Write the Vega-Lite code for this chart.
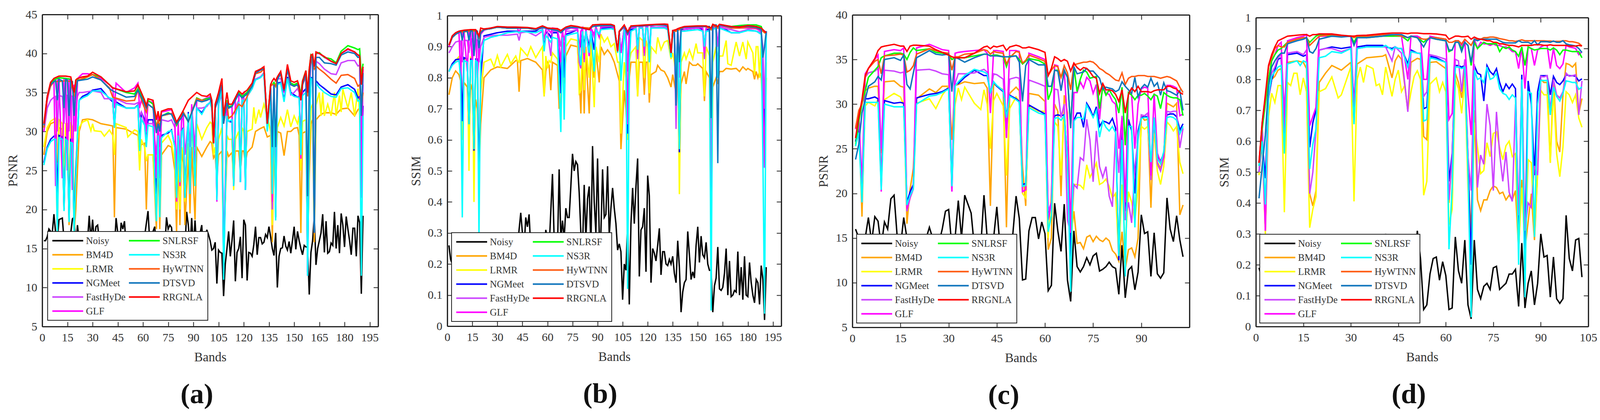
{"$schema":"https://vega.github.io/schema/vega-lite/v6.json","background":"white","padding":{"left":17,"top":22,"right":0,"bottom":0},"autosize":{"type":"pad"},"spacing":40,"resolve":{"legend":{"color":"independent"},"scale":{"color":"independent"}},
"config":{"view":{"stroke":null},"axis":{"labelFont":"Liberation Serif","labelFontSize":30,"titleFont":"Liberation Serif","titleFontSize":33,"titleFontWeight":"normal","labelColor":"#333","titleColor":"#333","grid":false,"domainColor":"#222","domainWidth":3.2,"tickColor":"#222","tickWidth":2,"tickSize":-12,"labelPadding":25,"labelFlush":false,"labelOverlap":false,"format":"d"},"legend":{"labelFont":"Liberation Serif","labelFontSize":25,"labelColor":"#333","symbolType":"stroke","symbolSize":6241,"symbolStrokeWidth":4,"columns":2,"rowPadding":9,"columnPadding":6,"fillColor":"white","strokeColor":"#222","strokeWidth":2,"padding":10,"title":null,"orient":"none","labelOffset":5,"clipHeight":27}},
"datasets":{
"A":[{"b":1,"Noisy":16,"BM4D":27,"LRMR":28,"NGMeet":26,"FastHyDe":30,"GLF":30,"SNLRSF":30.5,"NS3R":25.7,"HyWTNN":30.5,"DTSVD":30.8,"RRGNLA":31},
{"b":2,"Noisy":16},{"b":3,"Noisy":16.5},{"b":4,"Noisy":17.5},{"b":5,"Noisy":17.2},{"b":6,"Noisy":17},{"b":7,"Noisy":19.4},{"b":8,"Noisy":17},{"b":9,"Noisy":16},{"b":10,"Noisy":18.7},{"b":11,"Noisy":18.8},{"b":12,"Noisy":18.9},{"b":13,"Noisy":16},{"b":15,"Noisy":17},{"b":17,"Noisy":17},{"b":18,"Noisy":18.8},{"b":19,"Noisy":19},{"b":20,"Noisy":15},{"b":21,"Noisy":18},{"b":22,"Noisy":16},{"b":27,"Noisy":16},{"b":28,"Noisy":19.2},{"b":29,"Noisy":16},{"b":30,"Noisy":18.7},{"b":31,"Noisy":16},{"b":32,"Noisy":17.8},{"b":33,"Noisy":18},{"b":34,"Noisy":16},{"b":41,"Noisy":16},{"b":43,"Noisy":15},{"b":44,"Noisy":18.9},{"b":45,"Noisy":17},{"b":46,"Noisy":15},{"b":47,"Noisy":18.3},{"b":48,"Noisy":17.5},{"b":49,"Noisy":18.5},{"b":50,"Noisy":15},{"b":56,"Noisy":15},{"b":60,"Noisy":15},{"b":63,"Noisy":19.8},{"b":64,"Noisy":16},{"b":67,"Noisy":17.8},{"b":68,"Noisy":15},{"b":73,"Noisy":15},{"b":74,"Noisy":19},{"b":75,"Noisy":17.5},{"b":76,"Noisy":18},{"b":77,"Noisy":17.7},{"b":78,"Noisy":15},{"b":85,"Noisy":15},{"b":86,"Noisy":19.7},{"b":87,"Noisy":18},{"b":88,"Noisy":15},{"b":89,"Noisy":18.9},{"b":90,"Noisy":15},{"b":91,"Noisy":18.6},{"b":92,"Noisy":15},{"b":95,"Noisy":18},{"b":96,"Noisy":14},{"b":97,"Noisy":16},{"b":98,"Noisy":17.4},{"b":99,"Noisy":16.8},{"b":100,"Noisy":16},{"b":101,"Noisy":14.8},{"b":102,"Noisy":15},{"b":103,"Noisy":15.8},{"b":104,"Noisy":10.5},{"b":105,"Noisy":14.8},{"b":106,"Noisy":14.5},{"b":107,"Noisy":14.4},{"b":108,"Noisy":8.9},{"b":109,"Noisy":13},{"b":110,"Noisy":15},{"b":111,"Noisy":17.2},{"b":112,"Noisy":14},{"b":113,"Noisy":16},{"b":114,"Noisy":18.6},{"b":115,"Noisy":10.8},{"b":116,"Noisy":14.5},{"b":117,"Noisy":15},{"b":118,"Noisy":16.5},{"b":119,"Noisy":11.2},{"b":120,"Noisy":18.7},{"b":121,"Noisy":18},{"b":122,"Noisy":10.9},{"b":123,"Noisy":14.5},{"b":124,"Noisy":14.4},{"b":125,"Noisy":14},{"b":126,"Noisy":15.5},{"b":127,"Noisy":17.8},{"b":128,"Noisy":14.2},{"b":129,"Noisy":16.4},{"b":130,"Noisy":16.4},{"b":131,"Noisy":15.6},{"b":132,"Noisy":15.8},{"b":133,"Noisy":16.8},{"b":134,"Noisy":16.4},{"b":135,"Noisy":17.8},{"b":136,"Noisy":16.5},{"b":137,"Noisy":15},{"b":138,"Noisy":14.1},{"b":139,"Noisy":17},{"b":140,"Noisy":10},{"b":141,"Noisy":14},{"b":142,"Noisy":15},{"b":143,"Noisy":15.1},{"b":144,"Noisy":16.6},{"b":145,"Noisy":15.3},{"b":146,"Noisy":14.8},{"b":147,"Noisy":15.9},{"b":148,"Noisy":14.4},{"b":149,"Noisy":16},{"b":150,"Noisy":17.8},{"b":151,"Noisy":14.9},{"b":152,"Noisy":17.2},{"b":153,"Noisy":16},{"b":154,"Noisy":15},{"b":155,"Noisy":14.2},{"b":156,"Noisy":15.4},{"b":157,"Noisy":15.2},{"b":158,"Noisy":15.2},{"b":159,"Noisy":9.1},{"b":160,"Noisy":14.5},{"b":161,"Noisy":16},{"b":162,"Noisy":19.2},{"b":163,"Noisy":12.9},{"b":164,"Noisy":15},{"b":165,"Noisy":16},{"b":166,"Noisy":17},{"b":167,"Noisy":19.4},{"b":168,"Noisy":14.5},{"b":169,"Noisy":18.5},{"b":170,"Noisy":14.4},{"b":171,"Noisy":14.6},{"b":172,"Noisy":15.7},{"b":173,"Noisy":15.4},{"b":174,"Noisy":19.7},{"b":175,"Noisy":15},{"b":176,"Noisy":18},{"b":177,"Noisy":14.4},{"b":178,"Noisy":19.5},{"b":179,"Noisy":18},{"b":180,"Noisy":15.2},{"b":181,"Noisy":19.1},{"b":182,"Noisy":17.5},{"b":183,"Noisy":16},{"b":184,"Noisy":14.2},{"b":185,"Noisy":17.6},{"b":186,"Noisy":17.6},{"b":187,"Noisy":14},{"b":188,"Noisy":19.2},{"b":189,"Noisy":18.3},{"b":190,"Noisy":9.2},{"b":191,"Noisy":19.2},
{"b":3,"BM4D":30,"LRMR":30.5,"NGMeet":28,"FastHyDe":33,"GLF":34,"SNLRSF":34.5,"NS3R":27.8,"HyWTNN":34.3,"DTSVD":34.5,"RRGNLA":34.5},
{"b":5,"BM4D":31,"LRMR":31.3,"NGMeet":29,"FastHyDe":34,"GLF":36,"SNLRSF":36,"NS3R":28.7,"HyWTNN":35.8,"DTSVD":36,"RRGNLA":36.3},
{"b":7,"BM4D":31.2,"LRMR":31.6,"NGMeet":29.4,"FastHyDe":34.4,"GLF":36.6,"SNLRSF":36.6,"NS3R":29,"HyWTNN":36.4,"DTSVD":36.4,"RRGNLA":36.8},
{"b":8,"BM4D":31,"LRMR":31.7,"NGMeet":29.5,"FastHyDe":34.5,"GLF":23,"NS3R":29,"DTSVD":36.5},
{"b":9,"BM4D":17,"LRMR":26,"NGMeet":22,"FastHyDe":30,"GLF":36.5,"NS3R":17,"DTSVD":34},
{"b":10,"BM4D":30.5,"LRMR":31.5,"NGMeet":29.5,"FastHyDe":34.6,"GLF":36.8,"SNLRSF":36.9,"NS3R":29.2,"HyWTNN":36.4,"DTSVD":36.7,"RRGNLA":37.1},
{"b":12,"BM4D":30.3,"LRMR":31,"NGMeet":29.3,"FastHyDe":34.5,"GLF":24,"NS3R":29,"DTSVD":36.5},
{"b":13,"BM4D":20,"LRMR":24,"NGMeet":20,"FastHyDe":31,"GLF":36.8,"NS3R":19.8,"DTSVD":33},
{"b":14,"BM4D":30.3,"LRMR":31,"NGMeet":29.2,"FastHyDe":34.7,"GLF":36.8,"SNLRSF":36.8,"NS3R":29,"HyWTNN":36.5,"DTSVD":36.7,"RRGNLA":37.1},
{"b":15,"GLF":25,"BM4D":30.2,"LRMR":31,"NGMeet":29,"NS3R":28.8,"FastHyDe":34.6,"DTSVD":36.6},
{"b":16,"BM4D":18,"LRMR":22,"NGMeet":18.7,"FastHyDe":30,"GLF":36.6,"NS3R":18.4,"DTSVD":32},
{"b":17,"BM4D":30.2,"LRMR":31.2,"NGMeet":29,"FastHyDe":34.6,"GLF":36.5,"NS3R":28.6,"DTSVD":36.5,"HyWTNN":36.4,"SNLRSF":36.7,"RRGNLA":37},
{"b":18,"GLF":22.5,"BM4D":29,"LRMR":30.5,"NGMeet":29,"NS3R":28.5,"FastHyDe":34.5,"DTSVD":36.4},
{"b":19,"BM4D":17,"LRMR":20,"NGMeet":17.5,"FastHyDe":30,"GLF":36,"SNLRSF":34.5,"NS3R":17,"HyWTNN":34.5,"DTSVD":32,"RRGNLA":35},
{"b":20,"BM4D":20,"LRMR":25,"NGMeet":25,"FastHyDe":33,"GLF":30,"SNLRSF":36,"NS3R":24,"HyWTNN":36,"DTSVD":35,"RRGNLA":36.6},
{"b":21,"BM4D":25,"LRMR":29,"NGMeet":29.5,"FastHyDe":34.5,"GLF":36.5,"SNLRSF":36.6,"NS3R":29.4,"HyWTNN":36.5,"DTSVD":36.5,"RRGNLA":36.8},
{"b":22,"BM4D":30,"LRMR":30.5,"NGMeet":34,"FastHyDe":35,"GLF":37,"NS3R":34},
{"b":24,"BM4D":31.5,"LRMR":31.2,"NGMeet":34.5,"FastHyDe":35,"GLF":37.4,"SNLRSF":36.7,"NS3R":34.3,"HyWTNN":36.8,"DTSVD":36.6,"RRGNLA":37},
{"b":27,"BM4D":31.6,"LRMR":31.5,"NGMeet":34.8,"FastHyDe":35.1,"GLF":37.4,"SNLRSF":37,"NS3R":34.6,"HyWTNN":37,"DTSVD":36.7,"RRGNLA":37.1},
{"b":29,"LRMR":30.1},{"b":30,"BM4D":31.5,"LRMR":31,"NGMeet":35.3,"FastHyDe":35.2,"GLF":37.3,"SNLRSF":37.3,"NS3R":35.2,"HyWTNN":37.3,"DTSVD":37,"RRGNLA":37.6},{"b":31,"LRMR":30.1},
{"b":35,"BM4D":31,"LRMR":30,"NGMeet":35.5,"FastHyDe":35,"GLF":36.8,"SNLRSF":37,"NS3R":35.2,"HyWTNN":36.6,"DTSVD":36.6,"RRGNLA":37},{"b":37,"LRMR":29.4,"FastHyDe":34.2},
{"b":40,"BM4D":30.8,"LRMR":30.2,"NGMeet":34.2,"FastHyDe":34.2,"GLF":36,"SNLRSF":36,"NS3R":34.3,"HyWTNN":35.6,"DTSVD":35.5,"RRGNLA":36},
{"b":42,"BM4D":30.7,"LRMR":29.5,"NGMeet":33.8,"FastHyDe":34,"GLF":35.5,"SNLRSF":35.6,"NS3R":34.2,"HyWTNN":34.4,"DTSVD":35.2,"RRGNLA":35.6},
{"b":43,"BM4D":19,"LRMR":27,"NGMeet":30.5,"FastHyDe":30.5,"GLF":33,"NS3R":30.5},
{"b":44,"BM4D":30.5,"LRMR":31,"NGMeet":33.8,"FastHyDe":34.2,"GLF":36.2,"NS3R":33.5},
{"b":50,"BM4D":30.3,"LRMR":30.5,"NGMeet":33,"FastHyDe":33.6,"GLF":35,"SNLRSF":35,"NS3R":33,"HyWTNN":33.9,"DTSVD":34.4,"RRGNLA":35.1},{"b":51,"LRMR":29.3},
{"b":55,"BM4D":29.7,"LRMR":30.2,"NGMeet":33,"FastHyDe":33.5,"GLF":35.6,"SNLRSF":34.8,"NS3R":33,"HyWTNN":34,"DTSVD":34.5,"RRGNLA":35.2},
{"b":57,"BM4D":29.5,"LRMR":30,"NGMeet":33.4,"FastHyDe":33.7,"GLF":36.2,"SNLRSF":35.5,"NS3R":33.3,"HyWTNN":35.3,"DTSVD":35.3,"RRGNLA":36},
{"b":58,"BM4D":28,"LRMR":25,"NGMeet":28,"FastHyDe":32,"GLF":33,"NS3R":27.5},
{"b":59,"BM4D":28.3,"LRMR":29,"NGMeet":32.5,"FastHyDe":32.5,"GLF":34,"NS3R":31.6},
{"b":61,"BM4D":28.5,"LRMR":28,"NGMeet":31.5,"FastHyDe":31,"GLF":33,"SNLRSF":33.8,"NS3R":30.8,"HyWTNN":33,"DTSVD":33.5,"RRGNLA":34},
{"b":62,"BM4D":20,"LRMR":26.2,"NGMeet":28.5,"FastHyDe":28.5,"GLF":30,"SNLRSF":33,"NS3R":28,"HyWTNN":32.5,"DTSVD":33,"RRGNLA":33.3},
{"b":63,"BM4D":27,"LRMR":27,"NGMeet":31.5,"FastHyDe":31,"GLF":33.8,"SNLRSF":34,"NS3R":30.8,"HyWTNN":33.5,"DTSVD":33.5,"RRGNLA":34.2},
{"b":66,"BM4D":27,"LRMR":27,"NGMeet":31.5,"FastHyDe":31,"GLF":33.8,"SNLRSF":33.5,"NS3R":30.6,"HyWTNN":33,"DTSVD":33,"RRGNLA":34},
{"b":68,"BM4D":17.5,"LRMR":19,"NGMeet":22,"FastHyDe":27,"GLF":24,"SNLRSF":30.5,"NS3R":18.5,"HyWTNN":30.5,"DTSVD":29.8,"RRGNLA":31.5},
{"b":69,"BM4D":27,"LRMR":29,"NGMeet":30,"FastHyDe":31,"GLF":32,"SNLRSF":31.5,"NS3R":29.5,"HyWTNN":31.5,"DTSVD":31,"RRGNLA":32.6},
{"b":70,"BM4D":17.5,"LRMR":20,"NGMeet":24,"FastHyDe":28,"GLF":24,"SNLRSF":30.5,"NS3R":19,"HyWTNN":30.5,"DTSVD":30,"RRGNLA":31.3},
{"b":71,"BM4D":27,"LRMR":28.5,"NGMeet":29.5,"FastHyDe":31.5,"GLF":32.5,"SNLRSF":32,"NS3R":29.2,"HyWTNN":32,"DTSVD":32,"RRGNLA":32.6},
{"b":75,"BM4D":28.2,"LRMR":29.5,"NGMeet":29.8,"FastHyDe":31.3,"GLF":32.7,"SNLRSF":32.4,"NS3R":30,"HyWTNN":32.2,"DTSVD":32.3,"RRGNLA":32.9},
{"b":77,"BM4D":28,"LRMR":28.5,"NGMeet":30.2,"FastHyDe":31.5,"GLF":32.8,"SNLRSF":32.2,"NS3R":30.1,"HyWTNN":32.3,"DTSVD":32.2,"RRGNLA":32.9},
{"b":79,"BM4D":25,"LRMR":26,"NGMeet":28,"FastHyDe":30.5,"GLF":31.5,"SNLRSF":31.5,"NS3R":28,"HyWTNN":31.6,"DTSVD":31.2,"RRGNLA":31.8},
{"b":80,"BM4D":17,"LRMR":20,"NGMeet":22,"FastHyDe":25,"GLF":21,"SNLRSF":30.8,"NS3R":21.5,"HyWTNN":31,"DTSVD":31,"RRGNLA":31.2},
{"b":81,"BM4D":27,"LRMR":28,"NGMeet":29.5,"FastHyDe":31,"GLF":31.6,"NS3R":29.5},
{"b":82,"BM4D":18,"LRMR":20,"NGMeet":24,"FastHyDe":27,"GLF":23,"NS3R":23.5},
{"b":83,"BM4D":27.5,"LRMR":28,"NGMeet":30,"FastHyDe":31.5,"GLF":32,"SNLRSF":32,"NS3R":30,"HyWTNN":32,"DTSVD":31.8,"RRGNLA":32.3},
{"b":84,"BM4D":26,"LRMR":27,"NGMeet":30.5,"FastHyDe":31.7,"GLF":32.2,"NS3R":30.3,"SNLRSF":32.5,"HyWTNN":32.5,"DTSVD":32.3,"RRGNLA":32.7},
{"b":85,"BM4D":18,"LRMR":21,"NGMeet":21.5,"FastHyDe":27,"GLF":22,"NS3R":21.5},
{"b":87,"BM4D":27,"LRMR":28.5,"NGMeet":32.5,"FastHyDe":31.5,"GLF":32,"SNLRSF":31.2,"NS3R":32.3,"HyWTNN":31.3,"DTSVD":31.3,"RRGNLA":34},
{"b":88,"BM4D":19.5,"LRMR":24,"NGMeet":22,"FastHyDe":28,"GLF":22,"NS3R":22},
{"b":89,"BM4D":28,"LRMR":31,"NGMeet":32.7,"FastHyDe":33,"GLF":33.5,"NS3R":32.5},
{"b":91,"BM4D":18.7,"LRMR":23,"NGMeet":24,"FastHyDe":28,"GLF":25,"NS3R":23},
{"b":92,"BM4D":28,"LRMR":31,"NGMeet":33,"FastHyDe":33,"GLF":34,"SNLRSF":34.3,"NS3R":33,"HyWTNN":34.2,"DTSVD":34,"RRGNLA":35},
{"b":95,"BM4D":26.8,"LRMR":29,"NGMeet":32.4,"FastHyDe":33,"GLF":34,"SNLRSF":34,"NS3R":32.2,"HyWTNN":34,"DTSVD":33.8,"RRGNLA":34.6},
{"b":98,"BM4D":28,"LRMR":30.5,"NGMeet":33.4,"FastHyDe":33.2,"GLF":34.3,"SNLRSF":34.2,"NS3R":33.4,"HyWTNN":34,"DTSVD":34,"RRGNLA":34.5},
{"b":100,"BM4D":28.7,"LRMR":31.2,"NGMeet":33.7,"FastHyDe":33.8,"GLF":34.5,"SNLRSF":34.3,"NS3R":33.7,"HyWTNN":34.2,"DTSVD":34.2,"RRGNLA":34.8},
{"b":101,"BM4D":28.5,"LRMR":31,"NGMeet":33,"FastHyDe":33.5,"GLF":33.5,"SNLRSF":33.5,"NS3R":33,"HyWTNN":33.5,"DTSVD":33.5,"RRGNLA":34},
{"b":102,"BM4D":26.6,"LRMR":27,"NGMeet":28.5,"FastHyDe":28.7,"GLF":28.5,"SNLRSF":28.5,"NS3R":28.4,"HyWTNN":28.5,"DTSVD":28.6,"RRGNLA":28.5},
{"b":103,"BM4D":27,"LRMR":28,"NGMeet":33,"FastHyDe":33,"GLF":33,"SNLRSF":33,"NS3R":33,"HyWTNN":33,"DTSVD":33,"RRGNLA":33.5},
{"b":104,"BM4D":24,"LRMR":24,"NGMeet":21.5,"FastHyDe":24,"GLF":21,"NS3R":21.2},
{"b":105,"BM4D":27,"LRMR":29,"NGMeet":33.5,"FastHyDe":33.5,"GLF":34,"SNLRSF":34.5,"NS3R":33.5,"HyWTNN":34.5,"DTSVD":34.2,"RRGNLA":35},
{"b":107,"BM4D":27.5,"LRMR":30.5,"NGMeet":35,"FastHyDe":35,"GLF":36,"SNLRSF":36,"NS3R":35.5,"HyWTNN":36,"DTSVD":36,"RRGNLA":36.8},
{"b":108,"BM4D":15,"LRMR":14,"NGMeet":12,"FastHyDe":14,"GLF":12,"SNLRSF":32,"NS3R":11,"HyWTNN":31,"DTSVD":31,"RRGNLA":32},
{"b":110,"BM4D":27.5,"LRMR":29.5,"NGMeet":32,"FastHyDe":32.5,"GLF":33.5,"SNLRSF":34,"NS3R":32,"HyWTNN":33.8,"DTSVD":33.7,"RRGNLA":35},
{"b":111,"BM4D":26.8,"LRMR":29,"NGMeet":31.3,"FastHyDe":31.7,"GLF":33,"SNLRSF":33.2,"NS3R":31.3,"HyWTNN":31.7,"DTSVD":33,"RRGNLA":33.5},
{"b":113,"BM4D":27.3,"LRMR":29,"NGMeet":31.2,"FastHyDe":32,"GLF":33.2,"SNLRSF":33.3,"NS3R":31.5,"HyWTNN":32,"DTSVD":33.2,"RRGNLA":33.5},
{"b":114,"BM4D":24,"LRMR":22.5,"NGMeet":23,"FastHyDe":24,"GLF":23,"NS3R":23},
{"b":115,"BM4D":27.5,"LRMR":29,"NGMeet":32,"FastHyDe":33,"GLF":34,"NS3R":32},
{"b":117,"BM4D":27.5,"LRMR":30,"NGMeet":34,"FastHyDe":34,"GLF":35,"SNLRSF":35,"NS3R":33.8,"HyWTNN":33.5,"DTSVD":34.8,"RRGNLA":35.2},
{"b":118,"BM4D":25,"LRMR":26,"NGMeet":23.5,"FastHyDe":25,"GLF":23.5,"NS3R":23.5},
{"b":119,"BM4D":27.5,"LRMR":30.5,"NGMeet":34,"FastHyDe":34,"GLF":34.7,"SNLRSF":34.5,"NS3R":34,"HyWTNN":33.2,"DTSVD":34.3,"RRGNLA":34.8},
{"b":120,"BM4D":27.5,"LRMR":30,"NGMeet":34,"FastHyDe":34,"GLF":35,"NS3R":34},
{"b":121,"BM4D":26,"LRMR":26,"NGMeet":22.5,"FastHyDe":25,"GLF":22.5,"NS3R":22.5},
{"b":122,"BM4D":27.3,"LRMR":30,"NGMeet":34.5,"FastHyDe":34.5,"GLF":35,"SNLRSF":35,"NS3R":34.5,"HyWTNN":34.5,"DTSVD":34.8,"RRGNLA":35.3},
{"b":125,"BM4D":28,"LRMR":30.3,"NGMeet":35.5,"FastHyDe":35.5,"GLF":36,"SNLRSF":36,"NS3R":35.5,"HyWTNN":36,"DTSVD":35.8,"RRGNLA":36.2},
{"b":126,"LRMR":33.1},{"b":127,"BM4D":30,"LRMR":31,"NGMeet":36.7,"FastHyDe":36.7,"GLF":37.4,"SNLRSF":37.6,"NS3R":36.6,"HyWTNN":37.4,"DTSVD":37.5,"RRGNLA":37.7},
{"b":129,"LRMR":32.8},{"b":130,"BM4D":30.4,"LRMR":31.8,"NGMeet":37,"FastHyDe":37,"GLF":37.9,"SNLRSF":38,"NS3R":36.9,"HyWTNN":37.6,"DTSVD":37.9,"RRGNLA":38},
{"b":132,"BM4D":30.6,"LRMR":33.5,"NGMeet":37.5,"FastHyDe":37.5,"GLF":38.1,"SNLRSF":38,"NS3R":37.4,"HyWTNN":38,"DTSVD":38,"RRGNLA":38.3},
{"b":134,"BM4D":29.3,"LRMR":32,"NGMeet":31,"FastHyDe":31,"GLF":31,"SNLRSF":31,"NS3R":30,"HyWTNN":31,"DTSVD":31,"RRGNLA":31},
{"b":136,"BM4D":29.5,"LRMR":30,"NGMeet":35,"FastHyDe":35.5,"GLF":35.5,"SNLRSF":36,"NS3R":34.5,"HyWTNN":35.8,"DTSVD":35.7,"RRGNLA":36},
{"b":137,"BM4D":15.8,"LRMR":18,"NGMeet":22.5,"FastHyDe":20,"GLF":21,"SNLRSF":36,"NS3R":22,"HyWTNN":36,"DTSVD":28,"RRGNLA":36.5},
{"b":138,"BM4D":29,"LRMR":30,"NGMeet":36,"FastHyDe":36,"GLF":36,"SNLRSF":36.3,"NS3R":35.5,"HyWTNN":36,"DTSVD":36,"RRGNLA":36.8},
{"b":139,"BM4D":25,"LRMR":25,"NGMeet":19,"FastHyDe":25,"GLF":24,"SNLRSF":35.8,"NS3R":18.6,"HyWTNN":35.8,"DTSVD":28,"RRGNLA":36.5},
{"b":140,"BM4D":30,"LRMR":30.5,"NGMeet":36.2,"FastHyDe":36.7,"GLF":36.7,"SNLRSF":36.8,"NS3R":36,"HyWTNN":36.8,"DTSVD":36.6,"RRGNLA":37},
{"b":142,"BM4D":29.8,"LRMR":31.8,"NGMeet":36.3,"FastHyDe":36.8,"GLF":37.5,"SNLRSF":37.6,"NS3R":36.2,"HyWTNN":37.3,"DTSVD":37.5,"RRGNLA":37.7},
{"b":144,"BM4D":26.9,"LRMR":30.7,"NGMeet":34,"FastHyDe":35,"GLF":35,"SNLRSF":35.4,"NS3R":33.8,"HyWTNN":35.2,"DTSVD":35.2,"RRGNLA":35.4},
{"b":146,"BM4D":30,"LRMR":32.8,"NGMeet":37,"FastHyDe":36.8,"GLF":38,"SNLRSF":38.2,"NS3R":36.8,"HyWTNN":38,"DTSVD":38,"RRGNLA":38.6},
{"b":148,"BM4D":30,"LRMR":30.6,"NGMeet":35,"FastHyDe":34.7,"GLF":36,"SNLRSF":36.2,"NS3R":34.8,"HyWTNN":36,"DTSVD":36,"RRGNLA":36.5},
{"b":150,"BM4D":30.4,"LRMR":32,"NGMeet":34.7,"FastHyDe":35,"GLF":36,"SNLRSF":36,"NS3R":34.5,"HyWTNN":35.8,"DTSVD":35.8,"RRGNLA":36.3},
{"b":152,"BM4D":30.5,"LRMR":31,"NGMeet":34.4,"FastHyDe":35.5,"GLF":36.2,"SNLRSF":36.2,"NS3R":34.4,"HyWTNN":36,"DTSVD":36,"RRGNLA":36.5},
{"b":153,"BM4D":29.5,"LRMR":32,"NGMeet":34.5,"FastHyDe":35,"GLF":35.5,"SNLRSF":35.5,"NS3R":34.3,"HyWTNN":35.2,"DTSVD":35.5,"RRGNLA":35.8},
{"b":154,"BM4D":17,"LRMR":25,"NGMeet":28,"FastHyDe":27,"GLF":26.5,"SNLRSF":35,"NS3R":27,"HyWTNN":34,"DTSVD":34,"RRGNLA":34},
{"b":155,"BM4D":29.8,"LRMR":31.3,"NGMeet":35,"FastHyDe":36,"GLF":36.5,"SNLRSF":36.5,"NS3R":34.6,"HyWTNN":36,"DTSVD":36,"RRGNLA":36.4},
{"b":157,"BM4D":30,"LRMR":31.5,"NGMeet":35.5,"FastHyDe":37,"GLF":37.5,"SNLRSF":37.8,"NS3R":35,"HyWTNN":37.2,"DTSVD":37.5,"RRGNLA":37.8},
{"b":158,"BM4D":15,"LRMR":14,"NGMeet":12,"FastHyDe":14,"GLF":11.5,"SNLRSF":35,"NS3R":11.5,"HyWTNN":34.5,"DTSVD":21.7,"RRGNLA":35},
{"b":159,"BM4D":24.5,"LRMR":27,"NGMeet":30,"FastHyDe":35,"GLF":35,"SNLRSF":38,"NS3R":30,"HyWTNN":37,"DTSVD":36,"RRGNLA":38},
{"b":160,"BM4D":31,"LRMR":33,"NGMeet":36.9,"FastHyDe":39,"GLF":39.8,"SNLRSF":39.8,"NS3R":36.8,"HyWTNN":39.5,"DTSVD":39.5,"RRGNLA":39.8},
{"b":161,"BM4D":31.5,"LRMR":33.5,"NGMeet":36.9,"FastHyDe":39,"GLF":39.8,"SNLRSF":39.5,"NS3R":36.5,"HyWTNN":38.5,"DTSVD":39.5,"RRGNLA":39.9},
{"b":162,"BM4D":15.8,"LRMR":17,"NGMeet":17.2,"FastHyDe":17.5,"GLF":17,"SNLRSF":38.5,"NS3R":17.2,"HyWTNN":38,"DTSVD":17,"RRGNLA":38.3},
{"b":163,"BM4D":31.5,"LRMR":33.4,"NGMeet":36.5,"FastHyDe":39,"GLF":40,"SNLRSF":40,"NS3R":36.2,"HyWTNN":38.4,"DTSVD":39.5,"RRGNLA":40.2},
{"b":165,"LRMR":35,"BM4D":32,"NGMeet":36,"NS3R":35.6,"FastHyDe":38.7,"GLF":40,"SNLRSF":40.1,"HyWTNN":38,"DTSVD":39.5,"RRGNLA":40},
{"b":166,"LRMR":32},{"b":167,"LRMR":35,"BM4D":32.3},
{"b":168,"BM4D":32.4,"LRMR":32,"NGMeet":35.5,"FastHyDe":38,"GLF":39.5,"SNLRSF":39.5,"NS3R":35,"HyWTNN":37.5,"DTSVD":38.8,"RRGNLA":39.6},
{"b":170,"LRMR":33.5},
{"b":172,"BM4D":32.4,"LRMR":32,"NGMeet":34.8,"FastHyDe":37.4,"GLF":39,"SNLRSF":39.3,"NS3R":34.5,"HyWTNN":36.7,"DTSVD":38.7,"RRGNLA":39},
{"b":174,"LRMR":35},
{"b":175,"BM4D":32.2,"LRMR":32,"NGMeet":34.7,"FastHyDe":37.3,"GLF":38.7,"SNLRSF":38.8,"NS3R":34.4,"HyWTNN":36.2,"DTSVD":38.5,"RRGNLA":38.7},
{"b":177,"LRMR":34.6},
{"b":178,"BM4D":32.9,"LRMR":32.5,"NGMeet":35.7,"FastHyDe":38.8,"GLF":40,"SNLRSF":40.3,"NS3R":35.5,"HyWTNN":37.2,"DTSVD":39.8,"RRGNLA":40},
{"b":179,"LRMR":35.4},
{"b":182,"BM4D":33,"LRMR":33,"NGMeet":36,"FastHyDe":39.1,"GLF":40.5,"SNLRSF":41,"NS3R":35.6,"HyWTNN":37.3,"DTSVD":40.2,"RRGNLA":40.6},
{"b":184,"LRMR":35},
{"b":186,"BM4D":32,"LRMR":32,"NGMeet":35.4,"FastHyDe":39.1,"GLF":40.2,"SNLRSF":40.7,"NS3R":35,"HyWTNN":36.8,"DTSVD":40,"RRGNLA":40.2},
{"b":188,"BM4D":32.8,"LRMR":35.5,"NGMeet":34.3,"FastHyDe":38.4,"GLF":39.8,"SNLRSF":40.5,"NS3R":33.9,"HyWTNN":35.8,"DTSVD":39.5,"RRGNLA":39.8},
{"b":189,"BM4D":33,"LRMR":32,"NGMeet":34.5,"FastHyDe":38.5,"GLF":39.8,"SNLRSF":40.6,"NS3R":34,"HyWTNN":36,"DTSVD":39.6,"RRGNLA":39.7},
{"b":190,"BM4D":27,"LRMR":27,"NGMeet":26,"FastHyDe":30,"GLF":21.5,"SNLRSF":37,"NS3R":11.5,"HyWTNN":33,"DTSVD":32,"RRGNLA":36},
{"b":191,"BM4D":31,"LRMR":31,"NGMeet":33.3,"FastHyDe":36,"GLF":38,"SNLRSF":38.7,"NS3R":32,"HyWTNN":35,"DTSVD":37.5,"RRGNLA":38.3}],
"B":[{"b":1,"Noisy":0.26,"BM4D":0.745,"LRMR":0.82,"NGMeet":0.82,"FastHyDe":0.88,"GLF":0.9,"SNLRSF":0.905,"NS3R":0.82,"HyWTNN":0.905,"DTSVD":0.905,"RRGNLA":0.905},
{"b":2,"Noisy":0.215},{"b":3,"Noisy":0.2},{"b":15,"Noisy":0.2},{"b":30,"Noisy":0.22},{"b":42,"Noisy":0.25},{"b":43,"Noisy":0.31},{"b":44,"Noisy":0.365},{"b":45,"Noisy":0.3},{"b":46,"Noisy":0.25},{"b":47,"Noisy":0.35},{"b":48,"Noisy":0.32},{"b":49,"Noisy":0.36},{"b":50,"Noisy":0.25},{"b":58,"Noisy":0.25},{"b":59,"Noisy":0.31},{"b":60,"Noisy":0.28},{"b":61,"Noisy":0.25},{"b":63,"Noisy":0.49},{"b":64,"Noisy":0.28},{"b":66,"Noisy":0.25},{"b":67,"Noisy":0.505},{"b":68,"Noisy":0.28},{"b":69,"Noisy":0.34},{"b":70,"Noisy":0.28},{"b":71,"Noisy":0.38},{"b":72,"Noisy":0.35},{"b":73,"Noisy":0.35},{"b":74,"Noisy":0.45},{"b":75,"Noisy":0.555},{"b":76,"Noisy":0.5},{"b":77,"Noisy":0.53},{"b":78,"Noisy":0.52},{"b":79,"Noisy":0.43},{"b":80,"Noisy":0.3},{"b":81,"Noisy":0.25},{"b":82,"Noisy":0.455},{"b":83,"Noisy":0.28},{"b":84,"Noisy":0.41},{"b":85,"Noisy":0.45},{"b":86,"Noisy":0.25},{"b":87,"Noisy":0.58},{"b":88,"Noisy":0.4},{"b":89,"Noisy":0.3},{"b":90,"Noisy":0.54},{"b":91,"Noisy":0.3},{"b":92,"Noisy":0.3},{"b":93,"Noisy":0.505},{"b":94,"Noisy":0.35},{"b":95,"Noisy":0.36},{"b":96,"Noisy":0.515},{"b":97,"Noisy":0.29},{"b":98,"Noisy":0.38},{"b":99,"Noisy":0.445},{"b":100,"Noisy":0.38},{"b":101,"Noisy":0.33},{"b":102,"Noisy":0.245},{"b":103,"Noisy":0.265},{"b":104,"Noisy":0.24},{"b":105,"Noisy":0.085},{"b":106,"Noisy":0.2},{"b":107,"Noisy":0.18},{"b":108,"Noisy":0.33},{"b":109,"Noisy":0.07},{"b":110,"Noisy":0.33},{"b":111,"Noisy":0.445},{"b":112,"Noisy":0.33},{"b":113,"Noisy":0.45},{"b":114,"Noisy":0.54},{"b":115,"Noisy":0.16},{"b":116,"Noisy":0.31},{"b":117,"Noisy":0.32},{"b":118,"Noisy":0.38},{"b":119,"Noisy":0.175},{"b":120,"Noisy":0.485},{"b":121,"Noisy":0.42},{"b":122,"Noisy":0.14},{"b":123,"Noisy":0.25},{"b":124,"Noisy":0.235},{"b":125,"Noisy":0.21},{"b":126,"Noisy":0.26},{"b":127,"Noisy":0.315},{"b":128,"Noisy":0.165},{"b":129,"Noisy":0.24},{"b":130,"Noisy":0.24},{"b":131,"Noisy":0.2},{"b":132,"Noisy":0.195},{"b":133,"Noisy":0.215},{"b":134,"Noisy":0.2},{"b":135,"Noisy":0.225},{"b":136,"Noisy":0.17},{"b":137,"Noisy":0.14},{"b":138,"Noisy":0.275},{"b":139,"Noisy":0.19},{"b":140,"Noisy":0.045},{"b":141,"Noisy":0.11},{"b":142,"Noisy":0.14},{"b":143,"Noisy":0.15},{"b":144,"Noisy":0.305},{"b":145,"Noisy":0.23},{"b":146,"Noisy":0.15},{"b":147,"Noisy":0.175},{"b":148,"Noisy":0.155},{"b":149,"Noisy":0.26},{"b":150,"Noisy":0.32},{"b":151,"Noisy":0.205},{"b":152,"Noisy":0.29},{"b":153,"Noisy":0.23},{"b":154,"Noisy":0.22},{"b":155,"Noisy":0.27},{"b":156,"Noisy":0.2},{"b":157,"Noisy":0.18},{"b":158,"Noisy":0.18},{"b":159,"Noisy":0.045},{"b":160,"Noisy":0.13},{"b":161,"Noisy":0.155},{"b":162,"Noisy":0.255},{"b":163,"Noisy":0.12},{"b":164,"Noisy":0.115},{"b":165,"Noisy":0.125},{"b":166,"Noisy":0.17},{"b":167,"Noisy":0.25},{"b":168,"Noisy":0.1},{"b":169,"Noisy":0.21},{"b":170,"Noisy":0.095},{"b":171,"Noisy":0.1},{"b":172,"Noisy":0.115},{"b":173,"Noisy":0.11},{"b":174,"Noisy":0.24},{"b":175,"Noisy":0.1},{"b":176,"Noisy":0.19},{"b":177,"Noisy":0.085},{"b":178,"Noisy":0.225},{"b":179,"Noisy":0.1},{"b":180,"Noisy":0.095},{"b":181,"Noisy":0.205},{"b":182,"Noisy":0.14},{"b":183,"Noisy":0.1},{"b":184,"Noisy":0.075},{"b":185,"Noisy":0.15},{"b":186,"Noisy":0.14},{"b":187,"Noisy":0.07},{"b":188,"Noisy":0.195},{"b":189,"Noisy":0.15},{"b":190,"Noisy":0.02},{"b":191,"Noisy":0.19},
{"b":3,"BM4D":0.8,"LRMR":0.845,"NGMeet":0.845,"FastHyDe":0.9,"GLF":0.93,"SNLRSF":0.93,"NS3R":0.84,"HyWTNN":0.93,"DTSVD":0.93,"RRGNLA":0.935},
{"b":5,"BM4D":0.822,"LRMR":0.855,"NGMeet":0.858,"FastHyDe":0.915,"GLF":0.94,"SNLRSF":0.94,"NS3R":0.85,"HyWTNN":0.94,"DTSVD":0.94,"RRGNLA":0.945},
{"b":7,"BM4D":0.81,"LRMR":0.868,"NGMeet":0.86,"FastHyDe":0.918,"GLF":0.948,"SNLRSF":0.948,"NS3R":0.855,"HyWTNN":0.946,"DTSVD":0.946,"RRGNLA":0.95},
{"b":8,"BM4D":0.79,"LRMR":0.86,"NGMeet":0.86,"FastHyDe":0.918,"GLF":0.8,"NS3R":0.8,"DTSVD":0.95},
{"b":9,"BM4D":0.6,"LRMR":0.6,"NGMeet":0.66,"FastHyDe":0.85,"GLF":0.95,"NS3R":0.35,"DTSVD":0.92},
{"b":10,"BM4D":0.785,"LRMR":0.86,"NGMeet":0.865,"FastHyDe":0.92,"GLF":0.95,"SNLRSF":0.95,"NS3R":0.855,"HyWTNN":0.948,"DTSVD":0.95,"RRGNLA":0.953},
{"b":12,"BM4D":0.77,"LRMR":0.86,"NGMeet":0.86,"FastHyDe":0.92,"GLF":0.82,"NS3R":0.85,"DTSVD":0.95},
{"b":13,"BM4D":0.62,"LRMR":0.5,"NGMeet":0.65,"FastHyDe":0.88,"GLF":0.95,"NS3R":0.65,"DTSVD":0.92},
{"b":14,"BM4D":0.78,"LRMR":0.865,"NGMeet":0.86,"FastHyDe":0.925,"GLF":0.953,"SNLRSF":0.952,"NS3R":0.855,"HyWTNN":0.95,"DTSVD":0.952,"RRGNLA":0.955},
{"b":15,"BM4D":0.76,"LRMR":0.86,"NGMeet":0.86,"FastHyDe":0.925,"GLF":0.84,"NS3R":0.855,"DTSVD":0.95},
{"b":16,"BM4D":0.6,"LRMR":0.4,"NGMeet":0.565,"FastHyDe":0.87,"GLF":0.95,"NS3R":0.57,"DTSVD":0.87},
{"b":17,"BM4D":0.73,"LRMR":0.85,"NGMeet":0.86,"FastHyDe":0.925,"GLF":0.953,"SNLRSF":0.953,"NS3R":0.855,"HyWTNN":0.95,"DTSVD":0.953,"RRGNLA":0.955},
{"b":18,"BM4D":0.7,"LRMR":0.85,"NGMeet":0.86,"FastHyDe":0.92,"GLF":0.8,"NS3R":0.85,"DTSVD":0.95},
{"b":19,"BM4D":0.49,"LRMR":0.5,"NGMeet":0.45,"FastHyDe":0.85,"GLF":0.88,"SNLRSF":0.93,"NS3R":0.29,"HyWTNN":0.93,"DTSVD":0.895,"RRGNLA":0.935},
{"b":20,"BM4D":0.65,"LRMR":0.75,"NGMeet":0.8,"FastHyDe":0.9,"GLF":0.94,"SNLRSF":0.95,"NS3R":0.85,"HyWTNN":0.95,"DTSVD":0.945,"RRGNLA":0.96},
{"b":22,"BM4D":0.8,"LRMR":0.85,"NGMeet":0.935,"FastHyDe":0.93,"GLF":0.953,"SNLRSF":0.955,"NS3R":0.92,"HyWTNN":0.955,"DTSVD":0.955,"RRGNLA":0.957},
{"b":26,"BM4D":0.825,"LRMR":0.86,"NGMeet":0.94,"FastHyDe":0.935,"GLF":0.96,"SNLRSF":0.958,"NS3R":0.93,"HyWTNN":0.958,"DTSVD":0.958,"RRGNLA":0.96},
{"b":28,"LRMR":0.835},{"b":30,"BM4D":0.835,"LRMR":0.872,"NGMeet":0.945,"FastHyDe":0.937,"GLF":0.963,"SNLRSF":0.963,"NS3R":0.935,"HyWTNN":0.963,"DTSVD":0.963,"RRGNLA":0.965},{"b":32,"LRMR":0.835},
{"b":36,"BM4D":0.83,"LRMR":0.875,"NGMeet":0.95,"FastHyDe":0.937,"GLF":0.96,"SNLRSF":0.96,"NS3R":0.945,"HyWTNN":0.96,"DTSVD":0.96,"RRGNLA":0.963},{"b":38,"LRMR":0.845},
{"b":41,"BM4D":0.855,"LRMR":0.87,"NGMeet":0.95,"FastHyDe":0.94,"GLF":0.96,"SNLRSF":0.96,"NS3R":0.948,"HyWTNN":0.96,"DTSVD":0.96,"RRGNLA":0.963},
{"b":42,"BM4D":0.855,"LRMR":0.855,"NGMeet":0.95,"FastHyDe":0.94,"GLF":0.96,"NS3R":0.948},
{"b":43,"BM4D":0.755,"LRMR":0.85,"NGMeet":0.945,"FastHyDe":0.92,"GLF":0.945,"NS3R":0.945},
{"b":44,"BM4D":0.855,"LRMR":0.895,"NGMeet":0.95,"FastHyDe":0.945,"GLF":0.96,"NS3R":0.95},
{"b":48,"BM4D":0.862,"LRMR":0.87,"NGMeet":0.95,"FastHyDe":0.948,"GLF":0.96,"SNLRSF":0.96,"NS3R":0.947,"HyWTNN":0.96,"DTSVD":0.96,"RRGNLA":0.962},
{"b":50,"LRMR":0.9},{"b":53,"BM4D":0.85,"LRMR":0.865,"NGMeet":0.95,"FastHyDe":0.935,"GLF":0.955,"SNLRSF":0.955,"NS3R":0.945,"HyWTNN":0.955,"DTSVD":0.955,"RRGNLA":0.958},
{"b":57,"BM4D":0.825,"LRMR":0.9,"NGMeet":0.965,"FastHyDe":0.95,"GLF":0.96,"SNLRSF":0.963,"NS3R":0.955,"HyWTNN":0.962,"DTSVD":0.962,"RRGNLA":0.967},
{"b":58,"BM4D":0.74,"LRMR":0.74,"NGMeet":0.9,"FastHyDe":0.92,"GLF":0.92,"NS3R":0.885},
{"b":59,"BM4D":0.82,"LRMR":0.87,"NGMeet":0.945,"FastHyDe":0.95,"GLF":0.955,"NS3R":0.935},
{"b":60,"BM4D":0.85,"LRMR":0.83,"NGMeet":0.945,"FastHyDe":0.95,"GLF":0.958,"SNLRSF":0.96,"NS3R":0.93,"HyWTNN":0.96,"DTSVD":0.958,"RRGNLA":0.96},
{"b":61,"BM4D":0.84,"LRMR":0.855,"NGMeet":0.94},
{"b":62,"BM4D":0.76,"LRMR":0.85,"NGMeet":0.93,"FastHyDe":0.87,"GLF":0.945,"NS3R":0.915},
{"b":63,"BM4D":0.85,"LRMR":0.88,"NGMeet":0.945,"FastHyDe":0.95,"GLF":0.96,"NS3R":0.93},
{"b":66,"BM4D":0.84,"LRMR":0.86,"NGMeet":0.945,"FastHyDe":0.95,"GLF":0.958,"SNLRSF":0.955,"NS3R":0.925,"HyWTNN":0.955,"DTSVD":0.952,"RRGNLA":0.958},
{"b":67,"BM4D":0.7,"LRMR":0.8,"NGMeet":0.9,"FastHyDe":0.93,"GLF":0.9,"NS3R":0.78},
{"b":68,"BM4D":0.72,"LRMR":0.75,"NGMeet":0.75,"FastHyDe":0.9,"GLF":0.85,"SNLRSF":0.948,"NS3R":0.625,"HyWTNN":0.95,"DTSVD":0.945,"RRGNLA":0.952},
{"b":69,"BM4D":0.86,"LRMR":0.9,"NGMeet":0.94,"FastHyDe":0.95,"GLF":0.955,"NS3R":0.93},
{"b":70,"BM4D":0.78,"LRMR":0.8,"NGMeet":0.8,"FastHyDe":0.92,"GLF":0.88,"NS3R":0.665},
{"b":71,"BM4D":0.87,"LRMR":0.9,"NGMeet":0.94,"FastHyDe":0.95,"GLF":0.955,"SNLRSF":0.96,"NS3R":0.935,"HyWTNN":0.96,"DTSVD":0.96,"RRGNLA":0.963},
{"b":74,"BM4D":0.905,"LRMR":0.925,"NGMeet":0.945,"FastHyDe":0.95,"GLF":0.96,"SNLRSF":0.962,"NS3R":0.94,"HyWTNN":0.963,"DTSVD":0.962,"RRGNLA":0.968},
{"b":78,"BM4D":0.9,"LRMR":0.92,"NGMeet":0.955,"FastHyDe":0.955,"GLF":0.958,"SNLRSF":0.962,"NS3R":0.945,"HyWTNN":0.963,"DTSVD":0.962,"RRGNLA":0.965},
{"b":79,"BM4D":0.8,"LRMR":0.75,"NGMeet":0.9,"FastHyDe":0.85,"GLF":0.87,"NS3R":0.88},
{"b":80,"BM4D":0.685,"LRMR":0.76,"NGMeet":0.9,"FastHyDe":0.83,"GLF":0.95,"NS3R":0.84},
{"b":81,"BM4D":0.88,"LRMR":0.92,"NGMeet":0.95,"FastHyDe":0.955,"GLF":0.96,"NS3R":0.95},
{"b":82,"BM4D":0.685,"LRMR":0.76,"NGMeet":0.9,"FastHyDe":0.85,"GLF":0.86,"NS3R":0.88},
{"b":83,"BM4D":0.88,"LRMR":0.9,"NGMeet":0.95,"FastHyDe":0.955,"GLF":0.96,"NS3R":0.95},
{"b":85,"BM4D":0.685,"LRMR":0.8,"NGMeet":0.9,"FastHyDe":0.87,"GLF":0.87,"SNLRSF":0.96,"NS3R":0.88,"HyWTNN":0.96,"DTSVD":0.955,"RRGNLA":0.955},
{"b":86,"BM4D":0.87,"LRMR":0.92,"NGMeet":0.95,"FastHyDe":0.955,"GLF":0.96,"NS3R":0.95},
{"b":87,"SNLRSF":0.965,"RRGNLA":0.97,"DTSVD":0.965,"HyWTNN":0.965},
{"b":88,"BM4D":0.8,"LRMR":0.705,"NGMeet":0.89,"FastHyDe":0.93,"GLF":0.94,"NS3R":0.82},
{"b":89,"BM4D":0.89,"LRMR":0.9,"NGMeet":0.955,"FastHyDe":0.96,"GLF":0.965,"NS3R":0.955},
{"b":91,"BM4D":0.785,"LRMR":0.85,"NGMeet":0.94,"FastHyDe":0.93,"GLF":0.93,"NS3R":0.94},
{"b":92,"BM4D":0.9,"LRMR":0.94,"NGMeet":0.96,"FastHyDe":0.963,"GLF":0.965,"SNLRSF":0.968,"NS3R":0.955,"HyWTNN":0.968,"DTSVD":0.968,"RRGNLA":0.972},
{"b":94,"BM4D":0.875,"LRMR":0.915,"NGMeet":0.96},{"b":96,"BM4D":0.89,"LRMR":0.93},{"b":98,"BM4D":0.875,"LRMR":0.9,"NGMeet":0.962,"FastHyDe":0.965,"GLF":0.965,"SNLRSF":0.968,"NS3R":0.958,"HyWTNN":0.968,"DTSVD":0.968,"RRGNLA":0.972},
{"b":100,"BM4D":0.85,"LRMR":0.91,"NGMeet":0.96,"FastHyDe":0.96,"GLF":0.962,"SNLRSF":0.965,"NS3R":0.955,"HyWTNN":0.965,"DTSVD":0.965,"RRGNLA":0.968},
{"b":102,"BM4D":0.81,"LRMR":0.85,"NGMeet":0.885,"FastHyDe":0.885,"GLF":0.885,"SNLRSF":0.885,"NS3R":0.88,"HyWTNN":0.885,"DTSVD":0.885,"RRGNLA":0.885},
{"b":103,"BM4D":0.79,"LRMR":0.85,"NGMeet":0.945,"FastHyDe":0.945,"GLF":0.945,"SNLRSF":0.948,"NS3R":0.94,"HyWTNN":0.948,"DTSVD":0.948,"RRGNLA":0.95},
{"b":104,"BM4D":0.57,"LRMR":0.62,"NGMeet":0.88,"FastHyDe":0.88,"GLF":0.88,"NS3R":0.79},
{"b":106,"BM4D":0.76,"LRMR":0.85,"NGMeet":0.96,"FastHyDe":0.96,"GLF":0.96,"SNLRSF":0.965,"NS3R":0.955,"HyWTNN":0.965,"DTSVD":0.965,"RRGNLA":0.97},
{"b":107,"BM4D":0.7,"LRMR":0.8,"NGMeet":0.93,"FastHyDe":0.95,"GLF":0.95,"NS3R":0.9},
{"b":108,"BM4D":0.6,"LRMR":0.6,"NGMeet":0.62,"FastHyDe":0.82,"GLF":0.65,"SNLRSF":0.945,"NS3R":0.12,"HyWTNN":0.945,"DTSVD":0.94,"RRGNLA":0.948},
{"b":109,"BM4D":0.8,"LRMR":0.85,"NGMeet":0.93,"FastHyDe":0.96,"GLF":0.96,"NS3R":0.85},
{"b":110,"BM4D":0.85,"LRMR":0.88,"NGMeet":0.955,"FastHyDe":0.96,"GLF":0.963,"SNLRSF":0.965,"NS3R":0.95,"HyWTNN":0.965,"DTSVD":0.965,"RRGNLA":0.967},
{"b":113,"BM4D":0.85,"LRMR":0.9,"NGMeet":0.96,"FastHyDe":0.96,"GLF":0.965,"NS3R":0.958},
{"b":114,"BM4D":0.74,"LRMR":0.74,"NGMeet":0.9,"FastHyDe":0.86,"GLF":0.88,"NS3R":0.89},
{"b":115,"BM4D":0.85,"LRMR":0.93,"NGMeet":0.96,"FastHyDe":0.965,"GLF":0.965,"NS3R":0.96},
{"b":117,"BM4D":0.85,"LRMR":0.92,"NGMeet":0.96,"FastHyDe":0.96,"GLF":0.966,"NS3R":0.96},
{"b":118,"BM4D":0.745,"LRMR":0.8,"NGMeet":0.89,"FastHyDe":0.87,"GLF":0.88,"NS3R":0.9},
{"b":119,"BM4D":0.85,"LRMR":0.92,"NGMeet":0.96,"FastHyDe":0.965,"GLF":0.968,"SNLRSF":0.968,"NS3R":0.96,"HyWTNN":0.968,"DTSVD":0.968,"RRGNLA":0.97},
{"b":120,"BM4D":0.85,"LRMR":0.9,"NGMeet":0.96,"FastHyDe":0.965,"GLF":0.968,"NS3R":0.96},
{"b":121,"BM4D":0.72,"LRMR":0.75,"NGMeet":0.88,"FastHyDe":0.85,"GLF":0.86,"NS3R":0.85},
{"b":122,"BM4D":0.81,"LRMR":0.9,"NGMeet":0.96,"FastHyDe":0.965,"GLF":0.968,"NS3R":0.96},
{"b":125,"BM4D":0.82,"LRMR":0.88,"NGMeet":0.962,"FastHyDe":0.963,"GLF":0.97,"SNLRSF":0.97,"NS3R":0.96,"HyWTNN":0.97,"DTSVD":0.97,"RRGNLA":0.972},
{"b":126,"BM4D":0.84,"LRMR":0.93},{"b":128,"BM4D":0.825,"LRMR":0.89},{"b":130,"BM4D":0.82,"LRMR":0.915,"NGMeet":0.963,"FastHyDe":0.965,"GLF":0.97,"SNLRSF":0.97,"NS3R":0.96,"HyWTNN":0.97,"DTSVD":0.97,"RRGNLA":0.973},
{"b":132,"BM4D":0.8,"LRMR":0.92,"NGMeet":0.96,"FastHyDe":0.96,"GLF":0.965,"SNLRSF":0.968,"NS3R":0.955,"HyWTNN":0.968,"DTSVD":0.965,"RRGNLA":0.972},
{"b":134,"BM4D":0.77,"LRMR":0.86,"NGMeet":0.87,"FastHyDe":0.875,"GLF":0.875,"SNLRSF":0.88,"NS3R":0.865,"HyWTNN":0.88,"DTSVD":0.88,"RRGNLA":0.88},
{"b":135,"BM4D":0.81,"LRMR":0.88,"NGMeet":0.945,"FastHyDe":0.945,"GLF":0.95,"SNLRSF":0.95,"NS3R":0.94,"HyWTNN":0.95,"DTSVD":0.95,"RRGNLA":0.952},
{"b":136,"BM4D":0.78,"LRMR":0.85,"NGMeet":0.94,"FastHyDe":0.94,"GLF":0.95,"NS3R":0.94,"DTSVD":0.945},
{"b":137,"BM4D":0.75,"LRMR":0.8,"NGMeet":0.7,"FastHyDe":0.635,"GLF":0.8,"SNLRSF":0.95,"NS3R":0.8,"HyWTNN":0.95,"DTSVD":0.71,"RRGNLA":0.955},
{"b":138,"BM4D":0.8,"LRMR":0.9,"NGMeet":0.955,"FastHyDe":0.95,"GLF":0.96,"NS3R":0.95,"DTSVD":0.955},
{"b":139,"BM4D":0.6,"LRMR":0.425,"NGMeet":0.56,"FastHyDe":0.8,"GLF":0.85,"SNLRSF":0.955,"NS3R":0.57,"HyWTNN":0.955,"DTSVD":0.85,"RRGNLA":0.96},
{"b":140,"BM4D":0.78,"LRMR":0.85,"NGMeet":0.955,"FastHyDe":0.95,"GLF":0.96,"NS3R":0.95,"DTSVD":0.96},
{"b":142,"BM4D":0.82,"LRMR":0.88,"NGMeet":0.955,"FastHyDe":0.955,"GLF":0.96,"SNLRSF":0.963,"NS3R":0.95,"HyWTNN":0.963,"DTSVD":0.963,"RRGNLA":0.965},
{"b":143,"BM4D":0.78,"LRMR":0.86},{"b":145,"BM4D":0.85,"LRMR":0.89},{"b":147,"BM4D":0.84,"LRMR":0.86},{"b":149,"BM4D":0.84,"LRMR":0.91},
{"b":150,"BM4D":0.845,"LRMR":0.88,"NGMeet":0.96,"FastHyDe":0.96,"GLF":0.963,"SNLRSF":0.965,"NS3R":0.955,"HyWTNN":0.965,"DTSVD":0.965,"RRGNLA":0.967},
{"b":153,"BM4D":0.83,"LRMR":0.88,"NGMeet":0.955,"FastHyDe":0.95,"GLF":0.96,"NS3R":0.95},
{"b":154,"BM4D":0.725,"LRMR":0.74,"NGMeet":0.9,"FastHyDe":0.86,"GLF":0.88,"NS3R":0.9},
{"b":155,"BM4D":0.82,"LRMR":0.9,"NGMeet":0.955,"FastHyDe":0.95,"GLF":0.96,"SNLRSF":0.965,"NS3R":0.95,"HyWTNN":0.965,"DTSVD":0.965,"RRGNLA":0.967},
{"b":157,"BM4D":0.8,"LRMR":0.87,"NGMeet":0.955,"FastHyDe":0.95,"GLF":0.96,"NS3R":0.95,"DTSVD":0.965},
{"b":158,"BM4D":0.3,"LRMR":0.3,"NGMeet":0.3,"FastHyDe":0.63,"GLF":0.35,"SNLRSF":0.955,"NS3R":0.05,"HyWTNN":0.955,"DTSVD":0.67,"RRGNLA":0.96},
{"b":159,"BM4D":0.77,"LRMR":0.85,"NGMeet":0.96,"FastHyDe":0.96,"GLF":0.965,"SNLRSF":0.97,"NS3R":0.955,"HyWTNN":0.968,"DTSVD":0.97,"RRGNLA":0.972},
{"b":161,"BM4D":0.8,"LRMR":0.9,"NGMeet":0.96,"FastHyDe":0.965,"GLF":0.965,"NS3R":0.96,"DTSVD":0.97},
{"b":162,"BM4D":0.78,"LRMR":0.8,"NGMeet":0.8,"FastHyDe":0.9,"GLF":0.9,"SNLRSF":0.96,"NS3R":0.8,"HyWTNN":0.96,"DTSVD":0.525,"RRGNLA":0.965},
{"b":163,"BM4D":0.82,"LRMR":0.87,"NGMeet":0.965,"FastHyDe":0.965,"GLF":0.97,"SNLRSF":0.97,"NS3R":0.96,"HyWTNN":0.97,"DTSVD":0.97,"RRGNLA":0.972},
{"b":165,"BM4D":0.82,"LRMR":0.87,"NGMeet":0.96,"FastHyDe":0.96,"GLF":0.965},{"b":167,"BM4D":0.83,"LRMR":0.92},{"b":168,"LRMR":0.845},
{"b":170,"BM4D":0.828,"LRMR":0.84,"NGMeet":0.945,"FastHyDe":0.955,"GLF":0.96,"SNLRSF":0.965,"NS3R":0.945,"HyWTNN":0.96,"DTSVD":0.963,"RRGNLA":0.965},
{"b":173,"BM4D":0.83,"LRMR":0.915},{"b":175,"BM4D":0.82,"LRMR":0.87,"NGMeet":0.945,"FastHyDe":0.948,"GLF":0.96,"SNLRSF":0.968,"NS3R":0.945,"HyWTNN":0.96,"DTSVD":0.965,"RRGNLA":0.963},
{"b":177,"BM4D":0.835,"LRMR":0.915},{"b":179,"BM4D":0.825,"LRMR":0.86},{"b":180,"BM4D":0.83,"LRMR":0.915,"NGMeet":0.955,"FastHyDe":0.955,"GLF":0.96,"SNLRSF":0.97,"NS3R":0.952,"HyWTNN":0.963,"DTSVD":0.965,"RRGNLA":0.968},
{"b":183,"BM4D":0.82,"LRMR":0.88},{"b":184,"BM4D":0.795,"LRMR":0.81},{"b":185,"BM4D":0.82,"LRMR":0.9,"NGMeet":0.95,"FastHyDe":0.95,"GLF":0.958,"SNLRSF":0.97,"NS3R":0.95,"HyWTNN":0.96,"DTSVD":0.962,"RRGNLA":0.965},
{"b":186,"BM4D":0.8,"LRMR":0.9},{"b":187,"BM4D":0.82,"LRMR":0.8},{"b":188,"BM4D":0.805,"LRMR":0.915,"NGMeet":0.945,"FastHyDe":0.945,"GLF":0.95,"SNLRSF":0.965,"NS3R":0.94,"HyWTNN":0.955,"DTSVD":0.955,"RRGNLA":0.96},
{"b":189,"BM4D":0.7,"LRMR":0.7,"NGMeet":0.87,"FastHyDe":0.9,"GLF":0.75,"SNLRSF":0.95,"NS3R":0.55,"HyWTNN":0.95,"DTSVD":0.865,"RRGNLA":0.955},
{"b":190,"BM4D":0.6,"LRMR":0.6,"NGMeet":0.6,"FastHyDe":0.7,"GLF":0.51,"SNLRSF":0.945,"NS3R":0.04,"HyWTNN":0.945,"DTSVD":0.9,"RRGNLA":0.95},
{"b":191,"BM4D":0.8,"LRMR":0.85,"NGMeet":0.95,"FastHyDe":0.95,"GLF":0.945,"SNLRSF":0.945,"NS3R":0.95,"HyWTNN":0.945,"DTSVD":0.95,"RRGNLA":0.945}],
"C":[{"b":1,"Noisy":16,"BM4D":27.2,"LRMR":25.5,"NGMeet":25.8,"FastHyDe":27.4,"GLF":27.2,"SNLRSF":25.3,"NS3R":25.3,"HyWTNN":27.3,"DTSVD":23.8,"RRGNLA":26.2},
{"b":2,"Noisy":15},{"b":3,"Noisy":14},{"b":4,"Noisy":15},{"b":5,"Noisy":17.3},{"b":6,"Noisy":14.5},{"b":7,"Noisy":17.4},{"b":8,"Noisy":16.9},{"b":9,"Noisy":14},{"b":10,"Noisy":16.8},{"b":11,"Noisy":16},{"b":12,"Noisy":19.4},{"b":13,"Noisy":19.8},{"b":14,"Noisy":15},{"b":15,"Noisy":14},{"b":16,"Noisy":17.3},{"b":17,"Noisy":15},{"b":23,"Noisy":15},{"b":24,"Noisy":16.2},{"b":25,"Noisy":15},{"b":27,"Noisy":14.5},{"b":28,"Noisy":16},{"b":29,"Noisy":18},{"b":30,"Noisy":18.2},{"b":31,"Noisy":14},{"b":32,"Noisy":15},{"b":33,"Noisy":19.2},{"b":34,"Noisy":15},{"b":35,"Noisy":19.8},{"b":36,"Noisy":18.8},{"b":37,"Noisy":17.8},{"b":38,"Noisy":14},{"b":40,"Noisy":14},{"b":41,"Noisy":19.8},{"b":42,"Noisy":15},{"b":44,"Noisy":15},{"b":45,"Noisy":18.5},{"b":46,"Noisy":14},{"b":48,"Noisy":13},{"b":50,"Noisy":15.5},{"b":51,"Noisy":19.7},{"b":52,"Noisy":17.2},{"b":53,"Noisy":10.3},{"b":54,"Noisy":10.4},{"b":55,"Noisy":15.8},{"b":56,"Noisy":17.3},{"b":57,"Noisy":17.3},{"b":58,"Noisy":14.9},{"b":59,"Noisy":16.8},{"b":60,"Noisy":15.5},{"b":61,"Noisy":9.1},{"b":62,"Noisy":9.7},{"b":63,"Noisy":18.9},{"b":64,"Noisy":15.8},{"b":65,"Noisy":13.5},{"b":66,"Noisy":18.8},{"b":67,"Noisy":10.3},{"b":68,"Noisy":7.9},{"b":69,"Noisy":15.8},{"b":70,"Noisy":11.8},{"b":71,"Noisy":11.2},{"b":72,"Noisy":11.8},{"b":73,"Noisy":12.8},{"b":74,"Noisy":12},{"b":75,"Noisy":13},{"b":76,"Noisy":13.3},{"b":77,"Noisy":11.3},{"b":78,"Noisy":11.5},{"b":79,"Noisy":11.8},{"b":80,"Noisy":12.3},{"b":81,"Noisy":11.8},{"b":82,"Noisy":11.6},{"b":83,"Noisy":8.7},{"b":84,"Noisy":14.2},{"b":85,"Noisy":8.3},{"b":86,"Noisy":11.4},{"b":87,"Noisy":11.8},{"b":88,"Noisy":9.2},{"b":89,"Noisy":11.2},{"b":90,"Noisy":17.6},{"b":91,"Noisy":15.5},{"b":92,"Noisy":15.7},{"b":93,"Noisy":10.7},{"b":94,"Noisy":15.6},{"b":95,"Noisy":11},{"b":96,"Noisy":10.5},{"b":97,"Noisy":11.1},{"b":98,"Noisy":19.5},{"b":99,"Noisy":16},{"b":100,"Noisy":14.6},{"b":101,"Noisy":17.5},{"b":102,"Noisy":14.8},{"b":103,"Noisy":12.9},
{"b":2,"BM4D":29,"LRMR":28,"NGMeet":27.5,"FastHyDe":29,"GLF":29,"SNLRSF":28,"NS3R":26.8,"HyWTNN":29.3,"DTSVD":25.5,"RRGNLA":28.5},
{"b":3,"BM4D":17.4,"LRMR":19,"NGMeet":20,"FastHyDe":19,"GLF":21,"SNLRSF":30,"NS3R":19,"HyWTNN":30,"DTSVD":29,"RRGNLA":30.5},
{"b":4,"BM4D":31.5,"LRMR":29.8,"NGMeet":30.6,"FastHyDe":33,"GLF":33.4,"SNLRSF":31.5,"NS3R":30.2,"HyWTNN":33,"DTSVD":30.5,"RRGNLA":33.2},
{"b":5,"BM4D":31.8,"LRMR":30.2,"NGMeet":30.6,"FastHyDe":33.5,"GLF":34,"SNLRSF":33,"NS3R":30.2,"HyWTNN":34,"DTSVD":32,"RRGNLA":34},
{"b":7,"BM4D":32,"LRMR":29.8,"NGMeet":30.8,"FastHyDe":33.7,"GLF":35,"SNLRSF":33.8,"NS3R":30.2,"HyWTNN":34.8,"DTSVD":32.5,"RRGNLA":35.1},
{"b":8,"BM4D":32,"LRMR":30.5,"NGMeet":30.6,"FastHyDe":34,"GLF":35.5,"SNLRSF":34.2,"NS3R":30.2,"HyWTNN":35,"DTSVD":33.1,"RRGNLA":36},
{"b":9,"BM4D":24.5,"LRMR":22,"NGMeet":21,"FastHyDe":25,"GLF":20.2,"SNLRSF":35.2,"NS3R":20.4,"HyWTNN":33.4,"DTSVD":32.7,"RRGNLA":36.4},
{"b":10,"BM4D":32.5,"LRMR":30.5,"NGMeet":30.4,"FastHyDe":33.8,"GLF":35.9,"SNLRSF":35.4,"NS3R":30,"HyWTNN":35.4,"DTSVD":35,"RRGNLA":36.5},
{"b":13,"BM4D":32.6,"LRMR":31.2,"NGMeet":30.1,"FastHyDe":33.7,"GLF":36.1,"SNLRSF":35.7,"NS3R":29.7,"HyWTNN":35.5,"DTSVD":35.2,"RRGNLA":36.7},
{"b":15,"BM4D":32,"LRMR":30.8,"NGMeet":30.2,"FastHyDe":33.5,"GLF":36,"SNLRSF":35.7,"NS3R":29.7,"HyWTNN":35.6,"DTSVD":34.9,"RRGNLA":36.5},
{"b":16,"BM4D":31.9,"LRMR":29.9,"NGMeet":30.1,"FastHyDe":33.6,"GLF":36.3,"SNLRSF":35.6,"NS3R":29.7,"HyWTNN":35.5,"DTSVD":35.5,"RRGNLA":36.5},
{"b":17,"BM4D":16.6,"LRMR":18,"NGMeet":19,"FastHyDe":18,"GLF":18.3,"SNLRSF":35,"NS3R":18.7,"HyWTNN":33.6,"DTSVD":32.2,"RRGNLA":35.9},
{"b":18,"BM4D":20.5,"LRMR":19.5,"NGMeet":20.2,"FastHyDe":19.5,"GLF":19.7,"SNLRSF":35.8,"NS3R":19.8,"HyWTNN":33.8,"DTSVD":31.7,"RRGNLA":36.5},
{"b":19,"BM4D":22.8,"LRMR":20.5,"NGMeet":21,"FastHyDe":20.5,"GLF":20.6,"SNLRSF":36.3,"NS3R":20.5,"HyWTNN":34.3,"DTSVD":33.5,"RRGNLA":36.6},
{"b":20,"BM4D":30.6,"LRMR":30.1,"NGMeet":30.7,"FastHyDe":33.8,"GLF":36.3,"SNLRSF":36,"NS3R":30,"HyWTNN":35.6,"DTSVD":35.2,"RRGNLA":36.6},
{"b":24,"BM4D":31.7,"LRMR":30.6,"NGMeet":31.1,"FastHyDe":33.9,"GLF":36.7,"SNLRSF":36.2,"NS3R":30.9,"HyWTNN":36.2,"DTSVD":36,"RRGNLA":36.5},
{"b":26,"BM4D":31.3,"LRMR":29.5,"NGMeet":31.2,"FastHyDe":33.7,"GLF":36.4,"SNLRSF":35.8,"NS3R":31,"HyWTNN":36,"DTSVD":35.6,"RRGNLA":36.1},
{"b":28,"BM4D":32,"LRMR":31,"NGMeet":31.4,"FastHyDe":33.4,"GLF":36.1,"SNLRSF":35.7,"NS3R":31.3,"HyWTNN":35.8,"DTSVD":35.5,"RRGNLA":35.8},
{"b":30,"BM4D":32,"LRMR":32,"NGMeet":31.8,"FastHyDe":33.3,"GLF":36,"SNLRSF":35.5,"NS3R":31.7,"HyWTNN":35.7,"DTSVD":35.6,"RRGNLA":35.5},
{"b":31,"BM4D":26,"LRMR":21,"NGMeet":21,"FastHyDe":20.2,"GLF":20.2,"SNLRSF":35,"NS3R":20.8,"HyWTNN":33.8,"DTSVD":31.4,"RRGNLA":35.3},
{"b":32,"BM4D":32.1,"LRMR":30,"NGMeet":32.2,"FastHyDe":32.3,"GLF":35.7,"SNLRSF":35.2,"NS3R":32,"HyWTNN":35.3,"DTSVD":35.2,"RRGNLA":35.2},
{"b":33,"BM4D":32.2,"LRMR":31.8,"NGMeet":32.3,"FastHyDe":33.4,"GLF":35.8,"SNLRSF":35.2,"NS3R":32.5,"HyWTNN":35.3,"DTSVD":35.1,"RRGNLA":35.2},
{"b":34,"LRMR":30.5},
{"b":35,"BM4D":32.5,"LRMR":31.9,"NGMeet":33,"FastHyDe":33.4,"GLF":35.9,"SNLRSF":35.2,"NS3R":33.2,"HyWTNN":35.6,"DTSVD":34.7,"RRGNLA":35.2},
{"b":38,"BM4D":32.3,"LRMR":30.1,"NGMeet":33.8,"FastHyDe":33.5,"GLF":36,"SNLRSF":35.4,"NS3R":33.9,"HyWTNN":35.7,"DTSVD":35.2,"RRGNLA":35.7},
{"b":40,"LRMR":29.4},
{"b":41,"BM4D":32.4,"LRMR":31.6,"NGMeet":33.2,"FastHyDe":33.9,"GLF":36.1,"SNLRSF":35.6,"NS3R":33.6,"HyWTNN":36.1,"DTSVD":35.6,"RRGNLA":36.4},
{"b":42,"BM4D":31.8,"LRMR":30,"NGMeet":33.2,"FastHyDe":33.6,"GLF":35.7,"SNLRSF":35.6,"NS3R":33.4,"HyWTNN":36,"DTSVD":35.6,"RRGNLA":36.5},
{"b":43,"BM4D":18.6,"LRMR":25,"NGMeet":31.3,"FastHyDe":31.2,"GLF":29,"SNLRSF":35.4,"NS3R":31.2,"HyWTNN":35.6,"DTSVD":35.4,"RRGNLA":36.2},
{"b":44,"BM4D":32.3,"LRMR":30.4,"NGMeet":32.5,"FastHyDe":33.4,"GLF":36,"SNLRSF":35.5,"NS3R":32.5,"HyWTNN":35.9,"DTSVD":35.4,"RRGNLA":36.5},
{"b":45,"BM4D":32,"LRMR":31.2,"NGMeet":32,"FastHyDe":33.3,"GLF":36,"SNLRSF":35.5,"NS3R":32.1,"HyWTNN":35.8,"DTSVD":35.4,"RRGNLA":36.4},
{"b":47,"BM4D":31.6,"LRMR":29.8,"NGMeet":31.4,"FastHyDe":32.8,"GLF":35.9,"SNLRSF":35.3,"NS3R":31.5,"HyWTNN":35.7,"DTSVD":35.3,"RRGNLA":36.6},
{"b":48,"BM4D":16.2,"LRMR":22,"NGMeet":28.7,"FastHyDe":26.3,"GLF":26.2,"SNLRSF":34.2,"NS3R":28.5,"HyWTNN":34.5,"DTSVD":35.3,"RRGNLA":36},
{"b":49,"BM4D":31.2,"LRMR":29.5,"NGMeet":31,"FastHyDe":32.8,"GLF":36,"SNLRSF":35.4,"NS3R":30.9,"HyWTNN":35.2,"DTSVD":35.3,"RRGNLA":36.4},
{"b":51,"BM4D":31.9,"LRMR":30.8,"NGMeet":30.6,"FastHyDe":33,"GLF":36,"SNLRSF":35.4,"NS3R":30.5,"HyWTNN":35.9,"DTSVD":35.4,"RRGNLA":36.6},
{"b":52,"BM4D":31.5,"LRMR":30.3,"NGMeet":30.3,"FastHyDe":32.9,"GLF":35.9,"SNLRSF":35,"NS3R":30.2,"HyWTNN":35.8,"DTSVD":34.7,"RRGNLA":36.5},
{"b":53,"BM4D":23,"LRMR":20,"NGMeet":21,"FastHyDe":20.2,"GLF":20.2,"SNLRSF":34.5,"NS3R":20.8,"HyWTNN":34.6,"DTSVD":30.3,"RRGNLA":36.3},
{"b":54,"BM4D":18.6,"LRMR":19.5,"NGMeet":21.1,"FastHyDe":20.4,"GLF":20.4,"SNLRSF":34.8,"NS3R":20.9,"HyWTNN":34.9,"DTSVD":34.3,"RRGNLA":36.3},
{"b":55,"BM4D":31.2,"LRMR":29.8,"NGMeet":29.9,"FastHyDe":32.7,"GLF":35.7,"SNLRSF":35.1,"NS3R":29.6,"HyWTNN":35.5,"DTSVD":35,"RRGNLA":36.4},
{"b":58,"BM4D":31,"LRMR":29.2,"NGMeet":29.3,"FastHyDe":32.3,"GLF":35.3,"SNLRSF":34.9,"NS3R":29,"HyWTNN":35.1,"DTSVD":34.4,"RRGNLA":36.1},
{"b":60,"BM4D":30.3,"LRMR":29.2,"NGMeet":28.9,"FastHyDe":32,"GLF":35,"SNLRSF":34.5,"NS3R":28.8,"HyWTNN":34.8,"DTSVD":34.4,"RRGNLA":35.8},
{"b":61,"BM4D":13.7,"LRMR":15,"NGMeet":17.5,"FastHyDe":18,"GLF":17,"SNLRSF":30.5,"NS3R":15.7,"HyWTNN":33.2,"DTSVD":32,"RRGNLA":33.2},
{"b":62,"BM4D":15,"LRMR":20,"NGMeet":18.7,"FastHyDe":19,"GLF":19,"SNLRSF":31.5,"NS3R":17.5,"HyWTNN":33.8,"DTSVD":32,"RRGNLA":34},
{"b":63,"BM4D":30,"LRMR":28,"NGMeet":28.7,"FastHyDe":31.7,"GLF":34.4,"SNLRSF":33.8,"NS3R":28.4,"HyWTNN":34.3,"DTSVD":33.8,"RRGNLA":35.3},
{"b":64,"BM4D":29.2,"LRMR":27.5,"NGMeet":28.8,"FastHyDe":31.6,"GLF":34.3,"SNLRSF":33.8,"NS3R":28.5,"HyWTNN":34.2,"DTSVD":33.7,"RRGNLA":35.1},
{"b":65,"BM4D":19.7,"LRMR":22,"NGMeet":28.7,"FastHyDe":28.5,"GLF":31.5,"SNLRSF":33,"NS3R":28.2,"HyWTNN":33,"DTSVD":31.5,"RRGNLA":34.8},
{"b":66,"BM4D":31,"LRMR":29.5,"NGMeet":28.8,"FastHyDe":30,"GLF":33.7,"SNLRSF":33.8,"NS3R":28.7,"HyWTNN":34.3,"DTSVD":33.8,"RRGNLA":35},
{"b":67,"BM4D":29,"LRMR":23,"NGMeet":24,"FastHyDe":17,"GLF":28,"SNLRSF":33,"NS3R":24,"HyWTNN":33.5,"DTSVD":33,"RRGNLA":34.8},
{"b":68,"BM4D":15,"LRMR":12,"NGMeet":12.9,"FastHyDe":15.6,"GLF":15.6,"SNLRSF":27.5,"NS3R":9,"HyWTNN":31.6,"DTSVD":27.3,"RRGNLA":33.7},
{"b":69,"BM4D":18,"LRMR":21,"NGMeet":28.2,"FastHyDe":21,"GLF":31.3,"SNLRSF":34.2,"NS3R":28.1,"HyWTNN":34.4,"DTSVD":34.2,"RRGNLA":34.6},
{"b":70,"BM4D":14.4,"LRMR":21,"NGMeet":29,"FastHyDe":20.6,"GLF":31.3,"SNLRSF":31.4,"NS3R":28.5,"HyWTNN":34.5,"DTSVD":33.4,"RRGNLA":34.1},
{"b":71,"BM4D":14.5,"LRMR":20.9,"NGMeet":29,"FastHyDe":24,"GLF":32.5,"SNLRSF":32.8,"NS3R":28.5,"HyWTNN":34.6,"DTSVD":33.5,"RRGNLA":33.8},
{"b":72,"BM4D":13.8,"LRMR":20.5,"NGMeet":27.4,"FastHyDe":23.7,"GLF":31.8,"SNLRSF":33.8,"NS3R":28.3,"HyWTNN":34.7,"DTSVD":33.6,"RRGNLA":34.1},
{"b":73,"BM4D":15.1,"LRMR":23.2,"NGMeet":30.1,"FastHyDe":28.3,"GLF":33,"SNLRSF":33.6,"NS3R":29.9,"HyWTNN":34.7,"DTSVD":34,"RRGNLA":34},
{"b":74,"BM4D":15.3,"LRMR":21.8,"NGMeet":29.5,"FastHyDe":26,"GLF":32.6,"SNLRSF":32.9,"NS3R":29.2,"HyWTNN":34.8,"DTSVD":33.7,"RRGNLA":33.6},
{"b":75,"BM4D":14.6,"LRMR":22.5,"NGMeet":28.6,"FastHyDe":21.3,"GLF":31.2,"SNLRSF":33,"NS3R":28.5,"HyWTNN":34.7,"DTSVD":33.7,"RRGNLA":33.1},
{"b":76,"BM4D":15.2,"LRMR":23.4,"NGMeet":29.7,"FastHyDe":27,"GLF":32.2,"SNLRSF":33.1,"NS3R":29.3,"HyWTNN":34.4,"DTSVD":33.3,"RRGNLA":32.9},
{"b":77,"BM4D":14.8,"LRMR":21,"NGMeet":27.5,"FastHyDe":23,"GLF":28.3,"SNLRSF":29.5,"NS3R":26.3,"HyWTNN":34,"DTSVD":32.9,"RRGNLA":31.2},
{"b":78,"BM4D":14.6,"LRMR":21.2,"NGMeet":28.1,"FastHyDe":21.8,"GLF":32.3,"SNLRSF":31.9,"NS3R":28.1,"HyWTNN":33.8,"DTSVD":31.7,"RRGNLA":32.3},
{"b":79,"BM4D":15,"LRMR":21.6,"NGMeet":28,"FastHyDe":23,"GLF":31.2,"SNLRSF":31,"NS3R":27.4,"HyWTNN":33.5,"DTSVD":31.9,"RRGNLA":31.6},
{"b":80,"BM4D":14.7,"LRMR":20.8,"NGMeet":27.8,"FastHyDe":19.7,"GLF":31.1,"SNLRSF":31.6,"NS3R":27,"HyWTNN":33.3,"DTSVD":31.8,"RRGNLA":31.6},
{"b":81,"BM4D":13.6,"LRMR":19.5,"NGMeet":28.4,"FastHyDe":18.5,"GLF":30.3,"SNLRSF":31,"NS3R":27.5,"HyWTNN":33,"DTSVD":31.7,"RRGNLA":31.5},
{"b":82,"BM4D":13.2,"LRMR":20,"NGMeet":27.3,"FastHyDe":27,"GLF":30,"SNLRSF":30.5,"NS3R":26.8,"HyWTNN":32.7,"DTSVD":31.4,"RRGNLA":31.1},
{"b":83,"BM4D":12.4,"LRMR":13,"NGMeet":12.5,"FastHyDe":22.3,"GLF":25,"SNLRSF":29,"NS3R":13,"HyWTNN":32.6,"DTSVD":31.6,"RRGNLA":30.3},
{"b":84,"BM4D":15.7,"LRMR":21,"NGMeet":28.5,"FastHyDe":28.7,"GLF":28.5,"SNLRSF":31.9,"NS3R":26,"HyWTNN":33.5,"DTSVD":32.5,"RRGNLA":31.6},
{"b":85,"BM4D":11.5,"LRMR":14,"NGMeet":18,"FastHyDe":17,"GLF":19,"SNLRSF":25.4,"NS3R":10.7,"HyWTNN":32.2,"DTSVD":32,"RRGNLA":29},
{"b":86,"BM4D":13.7,"LRMR":20.2,"NGMeet":28.3,"FastHyDe":19,"GLF":31.3,"SNLRSF":31.3,"NS3R":27.5,"HyWTNN":32.9,"DTSVD":31.6,"RRGNLA":31.1},
{"b":87,"BM4D":13.9,"LRMR":19,"NGMeet":27,"FastHyDe":16.7,"GLF":31,"SNLRSF":31,"NS3R":27.5,"HyWTNN":33.1,"DTSVD":31.2,"RRGNLA":31.8},
{"b":88,"BM4D":12.9,"LRMR":17,"NGMeet":20,"FastHyDe":23,"GLF":25,"SNLRSF":30.5,"NS3R":16.2,"HyWTNN":33.1,"DTSVD":33,"RRGNLA":31.4},
{"b":89,"BM4D":15,"LRMR":20.5,"NGMeet":27,"FastHyDe":26,"GLF":30,"SNLRSF":31,"NS3R":26.5,"HyWTNN":33.2,"DTSVD":30.8,"RRGNLA":32},
{"b":90,"BM4D":28.7,"LRMR":27.5,"NGMeet":28.5,"FastHyDe":28.8,"GLF":31.7,"SNLRSF":31,"NS3R":28.4,"HyWTNN":33.2,"DTSVD":31.8,"RRGNLA":31.4},
{"b":91,"BM4D":28.2,"LRMR":27.2,"NGMeet":28.6,"FastHyDe":28.7,"GLF":31.9,"SNLRSF":31.2,"NS3R":28.5,"HyWTNN":33.2,"DTSVD":32.2,"RRGNLA":31.4},
{"b":92,"BM4D":28.3,"LRMR":27.5,"NGMeet":28.6,"FastHyDe":29,"GLF":31.8,"SNLRSF":30.9,"NS3R":28.5,"HyWTNN":33.1,"DTSVD":31.9,"RRGNLA":31.4},
{"b":93,"BM4D":18.4,"LRMR":22,"NGMeet":22.5,"FastHyDe":21.5,"GLF":22,"SNLRSF":30.5,"NS3R":23.5,"HyWTNN":33.1,"DTSVD":32.9,"RRGNLA":31.3},
{"b":94,"BM4D":28.5,"LRMR":27,"NGMeet":28.3,"FastHyDe":28.5,"GLF":31.2,"SNLRSF":31.1,"NS3R":28.5,"HyWTNN":33.1,"DTSVD":32,"RRGNLA":31.5},
{"b":95,"BM4D":23.5,"LRMR":22.5,"NGMeet":24.2,"FastHyDe":23.3,"GLF":24.5,"SNLRSF":30.9,"NS3R":23.9,"HyWTNN":33,"DTSVD":32.4,"RRGNLA":31.6},
{"b":96,"BM4D":22.8,"LRMR":21,"NGMeet":23.6,"FastHyDe":22.5,"GLF":23.5,"SNLRSF":29.5,"NS3R":23.3,"HyWTNN":32.9,"DTSVD":31,"RRGNLA":31.6},
{"b":97,"BM4D":24.5,"LRMR":23,"NGMeet":24.5,"FastHyDe":24,"GLF":24,"SNLRSF":31.3,"NS3R":24.7,"HyWTNN":33,"DTSVD":32.4,"RRGNLA":31.6},
{"b":98,"BM4D":30.1,"LRMR":28,"NGMeet":28.8,"FastHyDe":29.2,"GLF":32.1,"SNLRSF":31,"NS3R":28.5,"HyWTNN":33.1,"DTSVD":31.5,"RRGNLA":32},
{"b":99,"BM4D":29.9,"LRMR":27.6,"NGMeet":28.9,"FastHyDe":29.1,"GLF":32.1,"SNLRSF":30.8,"NS3R":28.6,"HyWTNN":33,"DTSVD":31.4,"RRGNLA":32},
{"b":100,"BM4D":29.7,"LRMR":27,"NGMeet":28.9,"FastHyDe":29.2,"GLF":32,"SNLRSF":30.7,"NS3R":28.5,"HyWTNN":32.8,"DTSVD":31.2,"RRGNLA":31.8},
{"b":101,"BM4D":30.1,"LRMR":27.5,"NGMeet":28.6,"FastHyDe":29.2,"GLF":31.8,"SNLRSF":30.7,"NS3R":28.2,"HyWTNN":32.6,"DTSVD":31,"RRGNLA":31.7},
{"b":102,"BM4D":17.6,"LRMR":23.5,"NGMeet":27.1,"FastHyDe":25.1,"GLF":28.7,"SNLRSF":30.5,"NS3R":26.7,"HyWTNN":31.9,"DTSVD":31.5,"RRGNLA":31.3},
{"b":103,"BM4D":18.7,"LRMR":22.2,"NGMeet":27.8,"FastHyDe":27.3,"GLF":28.9,"SNLRSF":28.7,"NS3R":27.5,"HyWTNN":31.3,"DTSVD":29.3,"RRGNLA":31.1}],
"D":[{"b":1,"Noisy":0.19,"BM4D":0.5,"LRMR":0.49,"NGMeet":0.5,"FastHyDe":0.5,"GLF":0.53,"SNLRSF":0.52,"NS3R":0.52,"HyWTNN":0.53,"DTSVD":0.415,"RRGNLA":0.53},
{"b":2,"Noisy":0.15},{"b":5,"Noisy":0.2},{"b":10,"Noisy":0.15},{"b":20,"Noisy":0.2},{"b":30,"Noisy":0.2},{"b":35,"Noisy":0.15},{"b":40,"Noisy":0.2},{"b":41,"Noisy":0.3},{"b":42,"Noisy":0.2},{"b":45,"Noisy":0.2},{"b":50,"Noisy":0.18},{"b":51,"Noisy":0.31},{"b":52,"Noisy":0.22},{"b":53,"Noisy":0.055},{"b":54,"Noisy":0.07},{"b":55,"Noisy":0.17},{"b":56,"Noisy":0.22},{"b":57,"Noisy":0.225},{"b":58,"Noisy":0.15},{"b":59,"Noisy":0.21},{"b":60,"Noisy":0.165},{"b":61,"Noisy":0.055},{"b":62,"Noisy":0.06},{"b":63,"Noisy":0.29},{"b":64,"Noisy":0.18},{"b":65,"Noisy":0.14},{"b":66,"Noisy":0.28},{"b":67,"Noisy":0.07},{"b":68,"Noisy":0.025},{"b":69,"Noisy":0.28},{"b":70,"Noisy":0.12},{"b":71,"Noisy":0.09},{"b":72,"Noisy":0.13},{"b":73,"Noisy":0.14},{"b":74,"Noisy":0.12},{"b":75,"Noisy":0.19},{"b":76,"Noisy":0.195},{"b":77,"Noisy":0.12},{"b":78,"Noisy":0.13},{"b":79,"Noisy":0.14},{"b":80,"Noisy":0.17},{"b":81,"Noisy":0.17},{"b":82,"Noisy":0.185},{"b":83,"Noisy":0.065},{"b":84,"Noisy":0.27},{"b":85,"Noisy":0.06},{"b":86,"Noisy":0.14},{"b":87,"Noisy":0.18},{"b":88,"Noisy":0.07},{"b":89,"Noisy":0.14},{"b":90,"Noisy":0.3},{"b":91,"Noisy":0.225},{"b":92,"Noisy":0.23},{"b":93,"Noisy":0.095},{"b":94,"Noisy":0.225},{"b":95,"Noisy":0.09},{"b":96,"Noisy":0.075},{"b":97,"Noisy":0.09},{"b":98,"Noisy":0.36},{"b":99,"Noisy":0.22},{"b":100,"Noisy":0.18},{"b":101,"Noisy":0.28},{"b":102,"Noisy":0.285},{"b":103,"Noisy":0.16},
{"b":2,"BM4D":0.62,"LRMR":0.6,"NGMeet":0.6,"FastHyDe":0.62,"GLF":0.65,"SNLRSF":0.64,"NS3R":0.6,"HyWTNN":0.66,"DTSVD":0.52,"RRGNLA":0.66},
{"b":3,"BM4D":0.31,"LRMR":0.3,"NGMeet":0.48,"FastHyDe":0.31,"GLF":0.31,"SNLRSF":0.72,"NS3R":0.395,"HyWTNN":0.74,"DTSVD":0.62,"RRGNLA":0.75},
{"b":4,"BM4D":0.74,"LRMR":0.68,"NGMeet":0.74,"FastHyDe":0.74,"GLF":0.8,"SNLRSF":0.8,"NS3R":0.75,"HyWTNN":0.84,"DTSVD":0.78,"RRGNLA":0.845},
{"b":5,"BM4D":0.8,"LRMR":0.755,"NGMeet":0.8,"FastHyDe":0.82,"GLF":0.86,"SNLRSF":0.86,"NS3R":0.81,"HyWTNN":0.87,"DTSVD":0.84,"RRGNLA":0.88},
{"b":6,"BM4D":0.81,"LRMR":0.725,"NGMeet":0.83,"FastHyDe":0.84,"GLF":0.88,"SNLRSF":0.88,"NS3R":0.825,"HyWTNN":0.9,"DTSVD":0.86,"RRGNLA":0.905},
{"b":7,"BM4D":0.83,"LRMR":0.78,"NGMeet":0.865,"FastHyDe":0.87,"GLF":0.91,"SNLRSF":0.895,"NS3R":0.84,"HyWTNN":0.91,"DTSVD":0.875,"RRGNLA":0.925},
{"b":8,"BM4D":0.835,"LRMR":0.78,"NGMeet":0.87,"FastHyDe":0.88,"GLF":0.92,"SNLRSF":0.9,"NS3R":0.845,"HyWTNN":0.905,"DTSVD":0.885,"RRGNLA":0.93},
{"b":9,"BM4D":0.7,"LRMR":0.37,"NGMeet":0.62,"FastHyDe":0.7,"GLF":0.63,"SNLRSF":0.91,"NS3R":0.56,"HyWTNN":0.905,"DTSVD":0.885,"RRGNLA":0.935},
{"b":10,"BM4D":0.855,"LRMR":0.79,"NGMeet":0.88,"FastHyDe":0.885,"GLF":0.925,"SNLRSF":0.92,"NS3R":0.85,"HyWTNN":0.92,"DTSVD":0.915,"RRGNLA":0.94},
{"b":11,"LRMR":0.78},{"b":12,"LRMR":0.82},
{"b":13,"BM4D":0.86,"LRMR":0.82,"NGMeet":0.885,"FastHyDe":0.89,"GLF":0.935,"SNLRSF":0.93,"NS3R":0.86,"HyWTNN":0.93,"DTSVD":0.925,"RRGNLA":0.943},
{"b":14,"LRMR":0.75,"NS3R":0.845},
{"b":15,"BM4D":0.855,"LRMR":0.805,"NGMeet":0.875,"FastHyDe":0.88,"GLF":0.94,"SNLRSF":0.935,"NS3R":0.86,"HyWTNN":0.935,"DTSVD":0.93,"RRGNLA":0.945},
{"b":16,"BM4D":0.835,"LRMR":0.76,"NGMeet":0.88,"FastHyDe":0.895,"GLF":0.945,"SNLRSF":0.935,"NS3R":0.855,"HyWTNN":0.935,"DTSVD":0.935,"RRGNLA":0.945},
{"b":17,"BM4D":0.43,"LRMR":0.32,"NGMeet":0.58,"FastHyDe":0.43,"GLF":0.65,"SNLRSF":0.92,"NS3R":0.51,"HyWTNN":0.91,"DTSVD":0.89,"RRGNLA":0.94},
{"b":18,"BM4D":0.39,"LRMR":0.38,"NGMeet":0.66,"FastHyDe":0.5,"GLF":0.68,"SNLRSF":0.93,"NS3R":0.59,"HyWTNN":0.92,"DTSVD":0.885,"RRGNLA":0.945},
{"b":19,"BM4D":0.44,"LRMR":0.42,"NGMeet":0.7,"FastHyDe":0.64,"GLF":0.71,"SNLRSF":0.94,"NS3R":0.64,"HyWTNN":0.93,"DTSVD":0.9,"RRGNLA":0.945},
{"b":20,"BM4D":0.79,"LRMR":0.76,"NGMeet":0.895,"FastHyDe":0.895,"GLF":0.94,"SNLRSF":0.945,"NS3R":0.87,"HyWTNN":0.94,"DTSVD":0.93,"RRGNLA":0.947},
{"b":22,"BM4D":0.82,"LRMR":0.77,"NGMeet":0.9,"FastHyDe":0.9,"GLF":0.94,"NS3R":0.875},
{"b":24,"BM4D":0.845,"LRMR":0.808,"NGMeet":0.905,"FastHyDe":0.9,"GLF":0.94,"SNLRSF":0.94,"NS3R":0.89,"HyWTNN":0.945,"DTSVD":0.94,"RRGNLA":0.947},
{"b":26,"LRMR":0.74},
{"b":27,"BM4D":0.83,"LRMR":0.75,"NGMeet":0.9,"FastHyDe":0.89,"GLF":0.94,"SNLRSF":0.94,"NS3R":0.885,"HyWTNN":0.94,"DTSVD":0.937,"RRGNLA":0.943},
{"b":30,"BM4D":0.855,"LRMR":0.84,"NGMeet":0.905,"FastHyDe":0.9,"GLF":0.94,"SNLRSF":0.94,"NS3R":0.9,"HyWTNN":0.94,"DTSVD":0.94,"RRGNLA":0.94},
{"b":31,"BM4D":0.7,"LRMR":0.405,"NGMeet":0.72,"FastHyDe":0.66,"GLF":0.7,"SNLRSF":0.92,"NS3R":0.655,"HyWTNN":0.935,"DTSVD":0.91,"RRGNLA":0.94},
{"b":32,"BM4D":0.85,"LRMR":0.8,"NGMeet":0.905,"FastHyDe":0.9,"GLF":0.94,"SNLRSF":0.94,"NS3R":0.9,"HyWTNN":0.94,"DTSVD":0.935,"RRGNLA":0.942},
{"b":33,"LRMR":0.84},{"b":34,"LRMR":0.79},{"b":35,"BM4D":0.87,"LRMR":0.845,"NGMeet":0.91,"FastHyDe":0.905,"GLF":0.94,"SNLRSF":0.935,"NS3R":0.905,"HyWTNN":0.94,"DTSVD":0.935,"RRGNLA":0.943},
{"b":37,"LRMR":0.835},{"b":38,"LRMR":0.78},{"b":39,"LRMR":0.785},{"b":40,"BM4D":0.875,"LRMR":0.75,"NGMeet":0.91,"FastHyDe":0.905,"GLF":0.945,"SNLRSF":0.94,"NS3R":0.905,"HyWTNN":0.945,"DTSVD":0.94,"RRGNLA":0.948},
{"b":41,"BM4D":0.88,"LRMR":0.84,"NGMeet":0.905,"FastHyDe":0.905,"GLF":0.945,"NS3R":0.91},
{"b":43,"BM4D":0.805,"LRMR":0.745,"NGMeet":0.9,"FastHyDe":0.86,"GLF":0.94,"NS3R":0.895,"SNLRSF":0.94,"HyWTNN":0.945,"DTSVD":0.945,"RRGNLA":0.95},
{"b":44,"BM4D":0.86,"LRMR":0.8,"NGMeet":0.905,"FastHyDe":0.905,"GLF":0.945,"NS3R":0.905},
{"b":45,"BM4D":0.878,"LRMR":0.83,"NGMeet":0.9,"FastHyDe":0.895,"GLF":0.945,"NS3R":0.9},
{"b":46,"BM4D":0.865,"LRMR":0.76,"NGMeet":0.9,"FastHyDe":0.885,"GLF":0.94,"NS3R":0.9,"SNLRSF":0.94,"HyWTNN":0.94,"DTSVD":0.945,"RRGNLA":0.95},
{"b":47,"LRMR":0.78},
{"b":48,"BM4D":0.7,"LRMR":0.7,"NGMeet":0.85,"FastHyDe":0.695,"GLF":0.8,"SNLRSF":0.925,"NS3R":0.84,"HyWTNN":0.935,"DTSVD":0.935,"RRGNLA":0.948},
{"b":49,"BM4D":0.855,"LRMR":0.76,"NGMeet":0.895,"FastHyDe":0.89,"GLF":0.94,"SNLRSF":0.94,"NS3R":0.89,"HyWTNN":0.94,"DTSVD":0.94,"RRGNLA":0.95},
{"b":50,"LRMR":0.81},
{"b":51,"BM4D":0.868,"LRMR":0.828,"NGMeet":0.885,"FastHyDe":0.885,"GLF":0.94,"SNLRSF":0.935,"NS3R":0.885,"HyWTNN":0.935,"DTSVD":0.935,"RRGNLA":0.95},
{"b":52,"BM4D":0.865,"LRMR":0.8,"NGMeet":0.885,"FastHyDe":0.885,"GLF":0.935,"NS3R":0.883},
{"b":53,"BM4D":0.615,"LRMR":0.425,"NGMeet":0.705,"FastHyDe":0.745,"GLF":0.8,"SNLRSF":0.92,"NS3R":0.665,"HyWTNN":0.93,"DTSVD":0.905,"RRGNLA":0.948},
{"b":54,"BM4D":0.605,"LRMR":0.47,"NGMeet":0.71,"FastHyDe":0.76,"GLF":0.8,"SNLRSF":0.93,"NS3R":0.67,"HyWTNN":0.93,"DTSVD":0.925,"RRGNLA":0.948},
{"b":55,"BM4D":0.855,"LRMR":0.785,"NGMeet":0.875,"FastHyDe":0.88,"GLF":0.94,"SNLRSF":0.935,"NS3R":0.87,"HyWTNN":0.935,"DTSVD":0.935,"RRGNLA":0.948},
{"b":57,"BM4D":0.857,"LRMR":0.805,"NGMeet":0.87,"FastHyDe":0.875,"GLF":0.935,"SNLRSF":0.93,"NS3R":0.865,"HyWTNN":0.935,"DTSVD":0.93,"RRGNLA":0.947},
{"b":58,"LRMR":0.76},{"b":59,"LRMR":0.79},
{"b":60,"BM4D":0.835,"LRMR":0.76,"NGMeet":0.855,"FastHyDe":0.865,"GLF":0.93,"SNLRSF":0.925,"NS3R":0.855,"HyWTNN":0.93,"DTSVD":0.925,"RRGNLA":0.943},
{"b":61,"BM4D":0.4,"LRMR":0.33,"NGMeet":0.47,"FastHyDe":0.41,"GLF":0.67,"SNLRSF":0.89,"NS3R":0.25,"HyWTNN":0.92,"DTSVD":0.895,"RRGNLA":0.93},
{"b":62,"BM4D":0.55,"LRMR":0.38,"NGMeet":0.56,"FastHyDe":0.55,"GLF":0.69,"SNLRSF":0.895,"NS3R":0.45,"HyWTNN":0.92,"DTSVD":0.895,"RRGNLA":0.935},
{"b":63,"BM4D":0.82,"LRMR":0.8,"NGMeet":0.845,"FastHyDe":0.865,"GLF":0.925,"SNLRSF":0.92,"NS3R":0.84,"HyWTNN":0.925,"DTSVD":0.92,"RRGNLA":0.94},
{"b":64,"BM4D":0.79,"LRMR":0.77,"NGMeet":0.845,"FastHyDe":0.86,"GLF":0.925,"SNLRSF":0.92,"NS3R":0.84,"HyWTNN":0.925,"DTSVD":0.92,"RRGNLA":0.94},
{"b":65,"BM4D":0.74,"LRMR":0.69,"NGMeet":0.84,"FastHyDe":0.76,"GLF":0.91,"SNLRSF":0.9,"NS3R":0.835,"HyWTNN":0.915,"DTSVD":0.89,"RRGNLA":0.938},
{"b":66,"BM4D":0.84,"LRMR":0.8,"NGMeet":0.845,"FastHyDe":0.865,"GLF":0.925,"SNLRSF":0.92,"NS3R":0.84,"HyWTNN":0.93,"DTSVD":0.92,"RRGNLA":0.938},
{"b":67,"BM4D":0.5,"LRMR":0.45,"NGMeet":0.55,"FastHyDe":0.55,"GLF":0.75,"SNLRSF":0.91,"NS3R":0.5,"HyWTNN":0.92,"DTSVD":0.91,"RRGNLA":0.94},
{"b":68,"BM4D":0.3,"LRMR":0.2,"NGMeet":0.2,"FastHyDe":0.44,"GLF":0.62,"SNLRSF":0.845,"NS3R":0.03,"HyWTNN":0.91,"DTSVD":0.855,"RRGNLA":0.93},
{"b":69,"BM4D":0.7,"LRMR":0.66,"NGMeet":0.845,"FastHyDe":0.85,"GLF":0.93,"SNLRSF":0.92,"NS3R":0.83,"HyWTNN":0.93,"DTSVD":0.93,"RRGNLA":0.937},
{"b":70,"BM4D":0.41,"LRMR":0.58,"NGMeet":0.82,"FastHyDe":0.45,"GLF":0.9,"SNLRSF":0.9,"NS3R":0.8,"HyWTNN":0.93,"DTSVD":0.925,"RRGNLA":0.932},
{"b":71,"BM4D":0.375,"LRMR":0.495,"NGMeet":0.815,"FastHyDe":0.555,"GLF":0.92,"SNLRSF":0.91,"NS3R":0.805,"HyWTNN":0.93,"DTSVD":0.93,"RRGNLA":0.93},
{"b":72,"BM4D":0.41,"LRMR":0.505,"NGMeet":0.73,"FastHyDe":0.525,"GLF":0.915,"SNLRSF":0.92,"NS3R":0.79,"HyWTNN":0.935,"DTSVD":0.93,"RRGNLA":0.928},
{"b":73,"BM4D":0.41,"LRMR":0.595,"NGMeet":0.845,"FastHyDe":0.72,"GLF":0.915,"SNLRSF":0.915,"NS3R":0.84,"HyWTNN":0.935,"DTSVD":0.93,"RRGNLA":0.925},
{"b":74,"BM4D":0.44,"LRMR":0.55,"NGMeet":0.825,"FastHyDe":0.65,"GLF":0.91,"SNLRSF":0.915,"NS3R":0.8,"HyWTNN":0.937,"DTSVD":0.93,"RRGNLA":0.925},
{"b":75,"BM4D":0.455,"LRMR":0.625,"NGMeet":0.815,"FastHyDe":0.44,"GLF":0.915,"SNLRSF":0.915,"NS3R":0.805,"HyWTNN":0.937,"DTSVD":0.93,"RRGNLA":0.92},
{"b":76,"BM4D":0.45,"LRMR":0.63,"NGMeet":0.835,"FastHyDe":0.695,"GLF":0.91,"SNLRSF":0.915,"NS3R":0.82,"HyWTNN":0.935,"DTSVD":0.93,"RRGNLA":0.92},
{"b":77,"BM4D":0.43,"LRMR":0.58,"NGMeet":0.79,"FastHyDe":0.56,"GLF":0.91,"SNLRSF":0.89,"NS3R":0.77,"HyWTNN":0.932,"DTSVD":0.925,"RRGNLA":0.915},
{"b":78,"BM4D":0.435,"LRMR":0.54,"NGMeet":0.76,"FastHyDe":0.47,"GLF":0.905,"SNLRSF":0.905,"NS3R":0.755,"HyWTNN":0.93,"DTSVD":0.92,"RRGNLA":0.915},
{"b":79,"BM4D":0.41,"LRMR":0.585,"NGMeet":0.785,"FastHyDe":0.565,"GLF":0.905,"SNLRSF":0.9,"NS3R":0.75,"HyWTNN":0.928,"DTSVD":0.918,"RRGNLA":0.912},
{"b":80,"BM4D":0.425,"LRMR":0.6,"NGMeet":0.77,"FastHyDe":0.435,"GLF":0.9,"SNLRSF":0.905,"NS3R":0.735,"HyWTNN":0.925,"DTSVD":0.918,"RRGNLA":0.91},
{"b":81,"BM4D":0.41,"LRMR":0.55,"NGMeet":0.785,"FastHyDe":0.405,"GLF":0.89,"SNLRSF":0.895,"NS3R":0.75,"HyWTNN":0.925,"DTSVD":0.918,"RRGNLA":0.91},
{"b":82,"BM4D":0.44,"LRMR":0.56,"NGMeet":0.77,"FastHyDe":0.72,"GLF":0.89,"SNLRSF":0.89,"NS3R":0.74,"HyWTNN":0.923,"DTSVD":0.918,"RRGNLA":0.908},
{"b":83,"BM4D":0.25,"LRMR":0.25,"NGMeet":0.3,"FastHyDe":0.36,"GLF":0.835,"SNLRSF":0.875,"NS3R":0.2,"HyWTNN":0.925,"DTSVD":0.925,"RRGNLA":0.905},
{"b":84,"BM4D":0.475,"LRMR":0.45,"NGMeet":0.815,"FastHyDe":0.8,"GLF":0.905,"SNLRSF":0.905,"NS3R":0.8,"HyWTNN":0.928,"DTSVD":0.92,"RRGNLA":0.91},
{"b":85,"BM4D":0.25,"LRMR":0.25,"NGMeet":0.25,"FastHyDe":0.31,"GLF":0.77,"SNLRSF":0.845,"NS3R":0.095,"HyWTNN":0.925,"DTSVD":0.92,"RRGNLA":0.91},
{"b":86,"BM4D":0.34,"LRMR":0.54,"NGMeet":0.795,"FastHyDe":0.4,"GLF":0.905,"SNLRSF":0.905,"NS3R":0.76,"HyWTNN":0.925,"DTSVD":0.92,"RRGNLA":0.91},
{"b":87,"BM4D":0.43,"LRMR":0.53,"NGMeet":0.72,"FastHyDe":0.385,"GLF":0.9,"SNLRSF":0.9,"NS3R":0.755,"HyWTNN":0.925,"DTSVD":0.915,"RRGNLA":0.91},
{"b":88,"BM4D":0.28,"LRMR":0.3,"NGMeet":0.49,"FastHyDe":0.52,"GLF":0.845,"SNLRSF":0.895,"NS3R":0.29,"HyWTNN":0.925,"DTSVD":0.925,"RRGNLA":0.912},
{"b":89,"BM4D":0.5,"LRMR":0.5,"NGMeet":0.76,"FastHyDe":0.49,"GLF":0.895,"SNLRSF":0.897,"NS3R":0.72,"HyWTNN":0.925,"DTSVD":0.912,"RRGNLA":0.912},
{"b":90,"BM4D":0.8,"LRMR":0.765,"NGMeet":0.812,"FastHyDe":0.81,"GLF":0.905,"SNLRSF":0.9,"NS3R":0.797,"HyWTNN":0.925,"DTSVD":0.922,"RRGNLA":0.912},
{"b":91,"BM4D":0.79,"LRMR":0.75,"NGMeet":0.812,"FastHyDe":0.808,"GLF":0.91,"SNLRSF":0.9,"NS3R":0.796,"HyWTNN":0.925,"DTSVD":0.922,"RRGNLA":0.91},
{"b":92,"BM4D":0.79,"LRMR":0.75,"NGMeet":0.812,"FastHyDe":0.812,"GLF":0.91,"SNLRSF":0.9,"NS3R":0.797,"HyWTNN":0.924,"DTSVD":0.922,"RRGNLA":0.91},
{"b":93,"BM4D":0.53,"LRMR":0.53,"NGMeet":0.75,"FastHyDe":0.7,"GLF":0.835,"SNLRSF":0.895,"NS3R":0.685,"HyWTNN":0.924,"DTSVD":0.92,"RRGNLA":0.912},
{"b":94,"BM4D":0.81,"LRMR":0.77,"NGMeet":0.81,"FastHyDe":0.8,"GLF":0.9,"SNLRSF":0.902,"NS3R":0.775,"HyWTNN":0.923,"DTSVD":0.924,"RRGNLA":0.91},
{"b":95,"BM4D":0.6,"LRMR":0.56,"NGMeet":0.79,"FastHyDe":0.75,"GLF":0.845,"SNLRSF":0.895,"NS3R":0.745,"HyWTNN":0.923,"DTSVD":0.92,"RRGNLA":0.91},
{"b":96,"BM4D":0.565,"LRMR":0.485,"NGMeet":0.783,"FastHyDe":0.74,"GLF":0.835,"SNLRSF":0.88,"NS3R":0.73,"HyWTNN":0.923,"DTSVD":0.92,"RRGNLA":0.91},
{"b":97,"BM4D":0.75,"LRMR":0.58,"NGMeet":0.795,"FastHyDe":0.76,"GLF":0.85,"SNLRSF":0.895,"NS3R":0.755,"HyWTNN":0.925,"DTSVD":0.925,"RRGNLA":0.91},
{"b":98,"BM4D":0.852,"LRMR":0.76,"NGMeet":0.815,"FastHyDe":0.82,"GLF":0.91,"SNLRSF":0.895,"NS3R":0.795,"HyWTNN":0.925,"DTSVD":0.915,"RRGNLA":0.91},
{"b":99,"BM4D":0.848,"LRMR":0.75,"NGMeet":0.812,"FastHyDe":0.81,"GLF":0.905,"SNLRSF":0.892,"NS3R":0.793,"HyWTNN":0.922,"DTSVD":0.912,"RRGNLA":0.908},
{"b":100,"BM4D":0.84,"LRMR":0.725,"NGMeet":0.812,"FastHyDe":0.812,"GLF":0.903,"SNLRSF":0.89,"NS3R":0.79,"HyWTNN":0.922,"DTSVD":0.91,"RRGNLA":0.908},
{"b":101,"BM4D":0.852,"LRMR":0.75,"NGMeet":0.81,"FastHyDe":0.815,"GLF":0.9,"SNLRSF":0.89,"NS3R":0.79,"HyWTNN":0.92,"DTSVD":0.908,"RRGNLA":0.908},
{"b":102,"BM4D":0.69,"LRMR":0.675,"NGMeet":0.795,"FastHyDe":0.685,"GLF":0.88,"SNLRSF":0.89,"NS3R":0.768,"HyWTNN":0.917,"DTSVD":0.9,"RRGNLA":0.91},
{"b":103,"BM4D":0.738,"LRMR":0.645,"NGMeet":0.802,"FastHyDe":0.795,"GLF":0.89,"SNLRSF":0.87,"NS3R":0.775,"HyWTNN":0.908,"DTSVD":0.887,"RRGNLA":0.908}]},
"hconcat":[
{"width":860,"height":798,"data":{"name":"A"},"transform":[{"fold":["Noisy","BM4D","LRMR","NGMeet","FastHyDe","GLF","SNLRSF","NS3R","HyWTNN","DTSVD","RRGNLA"],"as":["Method","v"]},{"filter":"isValid(datum.v)"}],"title":{"text":"(a)","orient":"bottom","anchor":"middle","dx":-34,"offset":44,"fontSize":72,"font":"Liberation Serif","fontWeight":"bold","color":"#111"},
"resolve":{"axis":{"x":"independent","y":"independent"}},
"layer":[{"mark":{"type":"line","strokeWidth":3.6,"clip":true},"encoding":{"x":{"field":"b","type":"quantitative","scale":{"domain":[0,200],"nice":false,"zero":false},"axis":{"values":[0,15,30,45,60,75,90,105,120,135,150,165,180,195],"title":"Bands","orient":"bottom","titlePadding":19}},"y":{"field":"v","type":"quantitative","scale":{"domain":[5,45],"nice":false,"zero":false},"axis":{"values":[5,10,15,20,25,30,35,40,45],"title":"PSNR","orient":"left","titlePadding":15}},"color":{"field":"Method","type":"nominal","scale":{"domain":["Noisy","BM4D","LRMR","NGMeet","FastHyDe","GLF","SNLRSF","NS3R","HyWTNN","DTSVD","RRGNLA"],"range":["#000000","#FFA500","#FFFF00","#0000FF","#CC44FF","#FF00FF","#00FF00","#00FFFF","#FF5A10","#0F75BC","#FF0000"]},"legend":{"legendX":14,"legendY":555}}}},
{"mark":{"type":"line","opacity":0},"encoding":{"x":{"field":"b","type":"quantitative","axis":{"values":[0,15,30,45,60,75,90,105,120,135,150,165,180,195],"title":null,"labels":false,"orient":"top"}},"y":{"field":"v","type":"quantitative","axis":{"values":[5,10,15,20,25,30,35,40,45],"title":null,"labels":false,"orient":"right","minExtent":41}}}}]},
{"width":855,"height":797,"data":{"name":"B"},"transform":[{"fold":["Noisy","BM4D","LRMR","NGMeet","FastHyDe","GLF","SNLRSF","NS3R","HyWTNN","DTSVD","RRGNLA"],"as":["Method","v"]},{"filter":"isValid(datum.v)"}],"title":{"text":"(b)","orient":"bottom","anchor":"middle","dx":-36,"offset":44,"fontSize":72,"font":"Liberation Serif","fontWeight":"bold","color":"#111"},
"resolve":{"axis":{"x":"independent","y":"independent"}},
"layer":[{"mark":{"type":"line","strokeWidth":3.6,"clip":true},"encoding":{"x":{"field":"b","type":"quantitative","scale":{"domain":[0,200],"nice":false,"zero":false},"axis":{"values":[0,15,30,45,60,75,90,105,120,135,150,165,180,195],"title":"Bands","orient":"bottom","titlePadding":19}},"y":{"field":"v","type":"quantitative","scale":{"domain":[0,1],"nice":false,"range":[797,3]},"axis":{"values":[0,0.1,0.2,0.3,0.4,0.5,0.6,0.7,0.8,0.9,1],"format":".1~f","title":"SSIM","orient":"left","titlePadding":12}},"color":{"field":"Method","type":"nominal","scale":{"domain":["Noisy","BM4D","LRMR","NGMeet","FastHyDe","GLF","SNLRSF","NS3R","HyWTNN","DTSVD","RRGNLA"],"range":["#000000","#FFA500","#FFFF00","#0000FF","#CC44FF","#FF00FF","#00FF00","#00FFFF","#FF5A10","#0F75BC","#FF0000"]},"legend":{"legendX":11,"legendY":558}}}},
{"mark":{"type":"line","opacity":0},"encoding":{"x":{"field":"b","type":"quantitative","axis":{"values":[0,15,30,45,60,75,90,105,120,135,150,165,180,195],"title":null,"labels":false,"orient":"top","offset":-3}},"y":{"field":"v","type":"quantitative","axis":{"values":[0,0.1,0.2,0.3,0.4,0.5,0.6,0.7,0.8,0.9,1],"title":null,"labels":false,"orient":"right","minExtent":52}}}}]},
{"width":863,"height":800,"data":{"name":"C"},"transform":[{"fold":["Noisy","BM4D","LRMR","NGMeet","FastHyDe","GLF","SNLRSF","NS3R","HyWTNN","DTSVD","RRGNLA"],"as":["Method","v"]},{"filter":"isValid(datum.v)"}],"title":{"text":"(c)","orient":"bottom","anchor":"middle","dx":-44,"offset":44,"fontSize":72,"font":"Liberation Serif","fontWeight":"bold","color":"#111"},
"resolve":{"axis":{"x":"independent","y":"independent"}},
"layer":[{"mark":{"type":"line","strokeWidth":3.6,"clip":true},"encoding":{"x":{"field":"b","type":"quantitative","scale":{"domain":[0,105],"nice":false,"zero":false},"axis":{"values":[0,15,30,45,60,75,90],"title":"Bands","orient":"bottom","titlePadding":19}},"y":{"field":"v","type":"quantitative","scale":{"domain":[5,40],"nice":false,"zero":false,"range":[800,1]},"axis":{"values":[5,10,15,20,25,30,35,40],"title":"PSNR","orient":"left","titlePadding":14}},"color":{"field":"Method","type":"nominal","scale":{"domain":["Noisy","BM4D","LRMR","NGMeet","FastHyDe","GLF","SNLRSF","NS3R","HyWTNN","DTSVD","RRGNLA"],"range":["#000000","#FFA500","#FFFF00","#0000FF","#CC44FF","#FF00FF","#00FF00","#00FFFF","#FF5A10","#0F75BC","#FF0000"]},"legend":{"legendX":11,"legendY":562}}}},
{"mark":{"type":"line","opacity":0},"encoding":{"x":{"field":"b","type":"quantitative","axis":{"values":[0,15,30,45,60,75,90],"title":null,"labels":false,"orient":"top","offset":-1}},"y":{"field":"v","type":"quantitative","axis":{"values":[5,10,15,20,25,30,35,40],"title":null,"labels":false,"orient":"right","minExtent":33}}}}]},
{"width":851,"height":798,"data":{"name":"D"},"transform":[{"fold":["Noisy","BM4D","LRMR","NGMeet","FastHyDe","GLF","SNLRSF","NS3R","HyWTNN","DTSVD","RRGNLA"],"as":["Method","v"]},{"filter":"isValid(datum.v)"}],"title":{"text":"(d)","orient":"bottom","anchor":"middle","dx":-34,"offset":44,"fontSize":72,"font":"Liberation Serif","fontWeight":"bold","color":"#111"},
"resolve":{"axis":{"x":"independent","y":"independent"}},
"layer":[{"mark":{"type":"line","strokeWidth":3.6,"clip":true},"encoding":{"x":{"field":"b","type":"quantitative","scale":{"domain":[0,105],"nice":false,"zero":false},"axis":{"values":[0,15,30,45,60,75,90,105],"title":"Bands","orient":"bottom","titlePadding":19}},"y":{"field":"v","type":"quantitative","scale":{"domain":[0,1],"nice":false,"range":[798,8]},"axis":{"values":[0,0.1,0.2,0.3,0.4,0.5,0.6,0.7,0.8,0.9,1],"format":".1~f","title":"SSIM","orient":"left","titlePadding":13}},"color":{"field":"Method","type":"nominal","scale":{"domain":["Noisy","BM4D","LRMR","NGMeet","FastHyDe","GLF","SNLRSF","NS3R","HyWTNN","DTSVD","RRGNLA"],"range":["#000000","#FFA500","#FFFF00","#0000FF","#CC44FF","#FF00FF","#00FF00","#00FFFF","#FF5A10","#0F75BC","#FF0000"]},"legend":{"legendX":10,"legendY":562}}}},
{"mark":{"type":"line","opacity":0},"encoding":{"x":{"field":"b","type":"quantitative","axis":{"values":[0,15,30,45,60,75,90,105],"title":null,"labels":false,"orient":"top","offset":-8}},"y":{"field":"v","type":"quantitative","axis":{"values":[0,0.1,0.2,0.3,0.4,0.5,0.6,0.7,0.8,0.9,1],"title":null,"labels":false,"orient":"right"}}}}]}]}
